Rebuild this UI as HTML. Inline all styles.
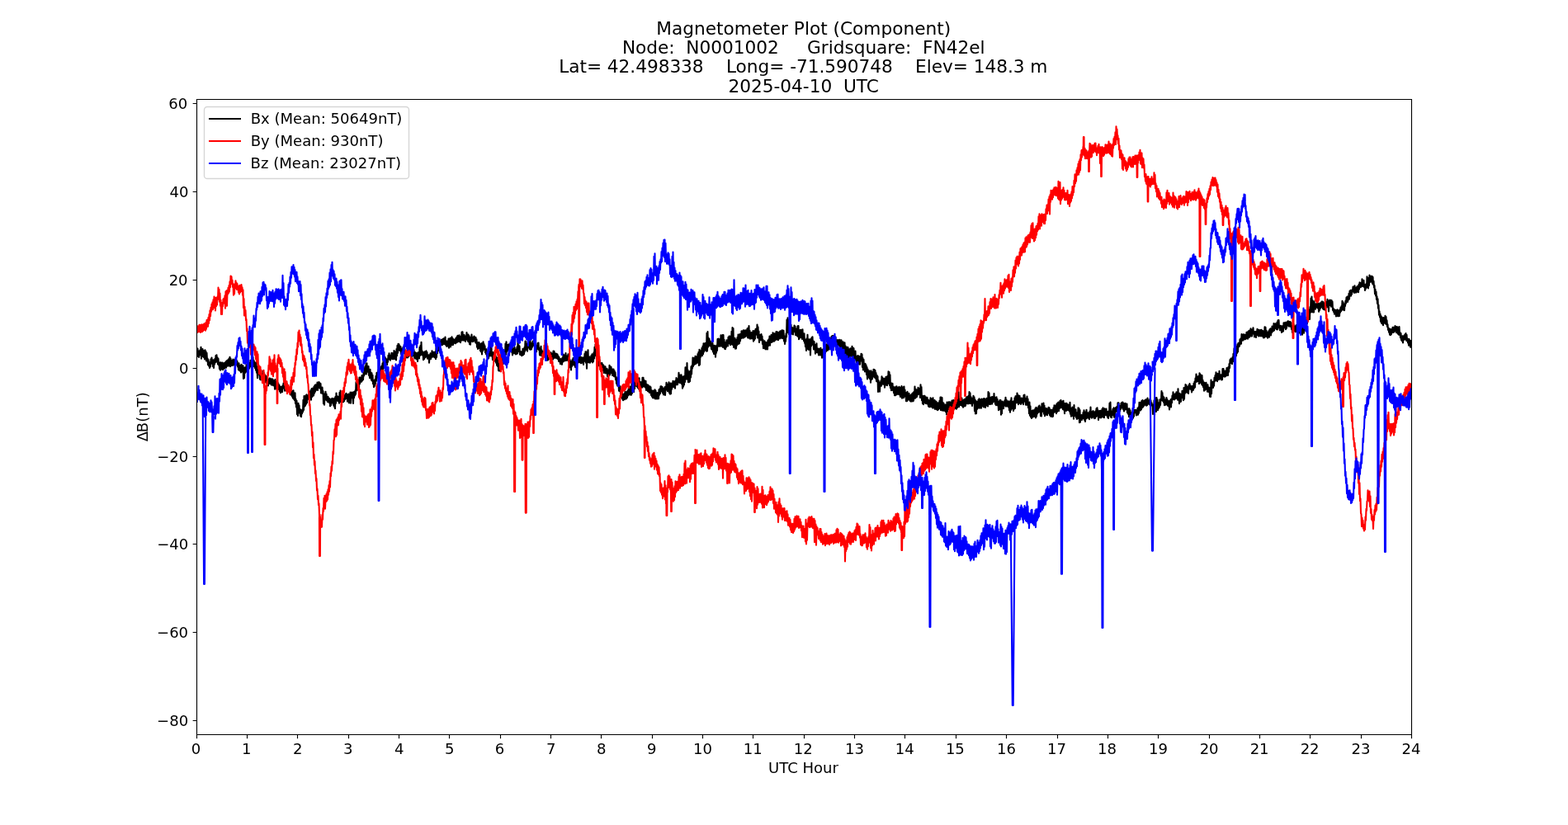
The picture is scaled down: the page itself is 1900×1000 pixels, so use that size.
<!DOCTYPE html>
<html lang="en"><head><meta charset="utf-8"><title>Magnetometer Plot (Component)</title>
<style>html,body{margin:0;padding:0;background:#fff}body{width:1900px;height:1000px;overflow:hidden}svg{display:block}text{font-family:"DejaVu Sans","Liberation Sans",sans-serif;fill:#000}.t{font-size:18.0556px}.h{font-size:21.6667px}.d{fill:none;stroke-width:2.0833;stroke-linejoin:round;stroke-linecap:butt}</style></head>
<body>
<svg width="1900" height="1000" viewBox="0 0 1900 1000">
<rect x="0" y="0" width="1900" height="1000" fill="#fff"/>
<clipPath id="c"><rect x="238" y="120" width="1473" height="771"/></clipPath>
<g clip-path="url(#c)">
<polyline class="d" stroke="#000" points="238.0,431.1 238.5,422.7 239.0,431.3 239.5,422.6 240.0,431.9 240.5,425.4 241.0,432.9 241.5,426.3 242.0,430.2 242.5,424.2 243.0,430.5 243.5,420.7 244.0,434.6 244.5,423.0 245.0,432.3 245.5,423.1 246.0,431.9 246.5,424.8 247.0,433.2 247.5,429.2 248.0,435.4 248.5,424.2 249.0,431.5 249.5,426.0 250.0,437.4 250.5,427.9 251.0,437.1 251.5,434.4 252.0,442.1 252.5,436.1 253.0,443.4 253.5,439.6 254.0,446.0 254.5,439.1 255.0,444.5 255.5,435.4 256.0,440.8 256.5,433.5 257.0,440.1 257.5,436.3 258.0,444.1 258.5,436.3 259.0,445.9 259.5,438.8 260.0,441.4 260.5,434.9 261.0,439.2 261.5,431.1 262.0,436.4 262.5,430.3 263.0,438.6 263.5,433.2 264.0,441.4 264.5,434.8 265.0,442.4 265.5,439.8 266.0,447.1 266.5,439.6 267.0,448.7 267.5,439.2 268.0,447.5 268.5,443.3 269.0,447.4 269.5,439.6 270.0,448.1 270.5,440.6 271.0,446.8 271.5,440.4 272.0,446.7 272.5,439.8 273.0,445.5 273.5,438.5 274.0,445.6 274.5,437.5 275.0,442.7 275.5,436.7 276.0,443.6 276.5,436.0 277.0,443.5 277.5,434.5 278.0,442.6 278.5,432.9 279.0,444.3 279.5,434.6 280.0,440.8 280.5,437.4 281.0,443.2 281.5,436.8 282.0,442.5 282.5,435.6 283.0,442.6 283.5,438.9 284.0,439.6 284.5,436.1 285.0,441.9 285.5,434.8 286.0,441.1 286.5,436.6 287.0,442.5 287.5,438.1 288.0,444.4 288.5,441.7 289.0,448.3 289.5,440.4 290.0,449.0 290.5,442.7 291.0,449.8 291.5,445.0 292.0,451.4 292.5,441.9 293.0,447.4 293.5,443.5 294.0,450.7 294.5,443.3 295.0,458.9 295.5,445.7 296.0,458.2 296.5,445.6 297.0,452.0 297.5,445.4 298.0,450.4 298.5,442.3 299.0,450.8 299.5,442.0 300.0,448.5 300.5,443.2 301.0,447.4 301.5,441.1 302.0,446.8 302.5,439.8 303.0,444.4 303.5,436.8 304.0,443.6 304.5,437.6 305.0,447.2 305.5,434.7 306.0,441.8 306.5,433.1 307.0,444.2 307.5,436.8 308.0,441.3 308.5,438.7 309.0,446.3 309.5,442.2 310.0,448.7 310.5,439.8 311.0,451.8 311.5,444.2 312.0,458.2 312.5,448.1 313.0,453.6 313.5,444.9 314.0,453.2 314.5,452.0 315.0,459.7 315.5,453.9 316.0,460.5 316.5,454.7 317.0,459.9 317.5,453.2 318.0,458.5 318.5,449.8 319.0,459.3 319.5,451.2 320.0,467.0 320.5,453.7 321.0,463.3 321.5,455.1 322.0,460.3 322.5,456.1 323.0,463.9 323.5,457.9 324.0,466.9 324.5,459.9 325.0,467.5 325.5,460.3 326.0,463.7 326.5,458.5 327.0,465.0 327.5,458.8 328.0,465.5 328.5,460.1 329.0,466.6 329.5,459.3 330.0,463.9 330.5,459.9 331.0,467.3 331.5,461.2 332.0,467.4 332.5,461.2 333.0,471.6 333.5,460.1 334.0,469.4 334.5,462.4 335.0,471.5 335.5,462.7 336.0,470.0 336.5,463.6 337.0,470.9 337.5,465.3 338.0,472.1 338.5,467.1 339.0,474.4 339.5,469.2 340.0,476.3 340.5,468.7 341.0,474.5 341.5,468.9 342.0,475.1 342.5,467.4 343.0,470.6 343.5,464.5 344.0,469.5 344.5,463.5 345.0,473.6 345.5,467.8 346.0,472.2 346.5,467.0 347.0,472.0 347.5,464.9 348.0,470.7 348.5,466.9 349.0,475.0 349.5,471.2 350.0,474.4 350.5,470.2 351.0,476.1 351.5,471.6 352.0,478.4 352.5,473.0 353.0,478.7 353.5,473.6 354.0,480.6 354.5,474.7 355.0,482.6 355.5,473.2 356.0,483.7 356.5,477.5 357.0,485.3 357.5,476.4 358.0,489.0 358.5,483.8 359.0,493.5 359.5,485.9 360.0,502.2 360.5,491.8 361.0,503.9 361.5,488.9 362.0,499.5 362.5,491.4 363.0,500.6 363.5,495.7 364.0,504.2 364.5,497.0 365.0,505.3 365.5,497.9 366.0,501.2 366.5,496.3 367.0,499.3 367.5,484.8 368.0,497.0 368.5,480.0 369.0,492.6 369.5,481.7 370.0,491.8 370.5,479.4 371.0,489.8 371.5,478.4 372.0,488.2 372.5,479.2 373.0,482.7 373.5,479.4 374.0,483.8 374.5,474.5 375.0,481.6 375.5,477.0 376.0,481.8 376.5,473.0 377.0,484.7 377.5,471.2 378.0,481.2 378.5,470.7 379.0,479.9 379.5,470.6 380.0,479.4 380.5,468.6 381.0,476.8 381.5,467.0 382.0,474.6 382.5,466.3 383.0,472.9 383.5,467.1 384.0,470.9 384.5,463.6 385.0,472.9 385.5,463.8 386.0,469.9 386.5,463.1 387.0,470.2 387.5,464.3 388.0,470.8 388.5,465.0 389.0,476.4 389.5,470.7 390.0,476.4 390.5,469.5 391.0,477.2 391.5,474.0 392.0,489.1 392.5,477.3 393.0,490.7 393.5,478.2 394.0,484.7 394.5,474.9 395.0,484.5 395.5,477.6 396.0,485.4 396.5,481.0 397.0,487.2 397.5,480.9 398.0,487.0 398.5,482.8 399.0,488.2 399.5,483.3 400.0,492.3 400.5,485.9 401.0,491.3 401.5,483.8 402.0,486.8 402.5,482.8 403.0,488.5 403.5,484.7 404.0,490.9 404.5,483.3 405.0,493.0 405.5,482.6 406.0,495.1 406.5,480.7 407.0,488.8 407.5,476.5 408.0,485.9 408.5,480.0 409.0,484.8 409.5,480.7 410.0,486.4 410.5,481.7 411.0,488.8 411.5,475.9 412.0,486.2 412.5,473.5 413.0,487.2 413.5,480.6 414.0,487.1 414.5,482.4 415.0,487.0 415.5,481.3 416.0,487.3 416.5,482.2 417.0,486.2 417.5,479.2 418.0,484.2 418.5,477.7 419.0,482.5 419.5,476.8 420.0,483.1 420.5,478.3 421.0,486.6 421.5,478.3 422.0,485.6 422.5,477.6 423.0,488.4 423.5,479.1 424.0,485.0 424.5,475.5 425.0,488.8 425.5,477.6 426.0,481.5 426.5,475.6 427.0,482.1 427.5,477.6 428.0,488.9 428.5,475.4 429.0,482.3 429.5,474.7 430.0,479.4 430.5,473.2 431.0,477.7 431.5,463.0 432.0,473.4 432.5,464.9 433.0,472.6 433.5,463.7 434.0,470.7 434.5,460.6 435.0,469.9 435.5,457.5 436.0,465.2 436.5,457.5 437.0,462.9 437.5,458.0 438.0,462.8 438.5,455.0 439.0,461.4 439.5,455.7 440.0,460.3 440.5,452.1 441.0,455.4 441.5,446.0 442.0,453.7 442.5,443.9 443.0,452.7 443.5,440.8 444.0,453.5 444.5,440.2 445.0,450.6 445.5,444.9 446.0,450.6 446.5,444.0 447.0,454.9 447.5,450.7 448.0,458.3 448.5,447.8 449.0,457.5 449.5,451.5 450.0,460.7 450.5,452.4 451.0,461.6 451.5,454.9 452.0,465.2 452.5,461.0 453.0,469.2 453.5,463.6 454.0,467.8 454.5,459.8 455.0,465.2 455.5,455.9 456.0,461.7 456.5,451.9 457.0,457.8 457.5,451.6 458.0,453.9 458.5,448.4 459.0,457.7 459.5,449.7 460.0,454.2 460.5,447.1 461.0,450.2 461.5,444.9 462.0,450.2 462.5,443.4 463.0,452.6 463.5,440.3 464.0,451.1 464.5,437.0 465.0,440.8 465.5,435.8 466.0,440.4 466.5,432.8 467.0,438.5 467.5,434.6 468.0,441.4 468.5,436.7 469.0,442.2 469.5,435.3 470.0,438.6 470.5,430.7 471.0,435.8 471.5,428.2 472.0,435.3 472.5,431.2 473.0,436.6 473.5,430.5 474.0,434.9 474.5,427.8 475.0,432.3 475.5,428.4 476.0,435.3 476.5,428.6 477.0,433.0 477.5,425.0 478.0,435.1 478.5,426.3 479.0,434.8 479.5,428.8 480.0,436.5 480.5,423.1 481.0,431.3 481.5,418.9 482.0,427.6 482.5,416.9 483.0,424.6 483.5,417.4 484.0,424.4 484.5,419.4 485.0,425.2 485.5,420.2 486.0,429.0 486.5,423.5 487.0,430.7 487.5,422.5 488.0,431.2 488.5,420.9 489.0,428.5 489.5,420.5 490.0,427.7 490.5,423.1 491.0,429.1 491.5,425.7 492.0,433.5 492.5,427.0 493.0,433.2 493.5,426.2 494.0,433.4 494.5,426.5 495.0,432.1 495.5,424.0 496.0,430.5 496.5,426.7 497.0,429.2 497.5,424.1 498.0,429.6 498.5,423.1 499.0,433.2 499.5,425.2 500.0,431.1 500.5,424.0 501.0,430.4 501.5,424.1 502.0,433.4 502.5,426.5 503.0,434.7 503.5,427.6 504.0,432.9 504.5,428.0 505.0,435.4 505.5,428.6 506.0,438.0 506.5,427.2 507.0,431.5 507.5,427.0 508.0,434.4 508.5,420.7 509.0,430.9 509.5,418.7 510.0,429.2 510.5,414.7 511.0,430.2 511.5,425.4 512.0,430.5 512.5,427.0 513.0,436.3 513.5,427.5 514.0,435.1 514.5,426.2 515.0,433.4 515.5,426.2 516.0,430.0 516.5,425.3 517.0,432.8 517.5,427.1 518.0,434.7 518.5,431.3 519.0,434.1 519.5,430.3 520.0,439.6 520.5,432.2 521.0,433.2 521.5,428.3 522.0,435.1 522.5,430.6 523.0,433.0 523.5,425.2 524.0,431.1 524.5,427.5 525.0,432.7 525.5,426.9 526.0,430.7 526.5,427.1 527.0,433.4 527.5,426.2 528.0,435.1 528.5,420.8 529.0,432.9 529.5,416.1 530.0,428.2 530.5,417.4 531.0,425.3 531.5,416.5 532.0,422.5 532.5,413.3 533.0,420.8 533.5,413.5 534.0,418.3 534.5,411.8 535.0,418.0 535.5,412.1 536.0,418.1 536.5,411.1 537.0,414.6 537.5,410.3 538.0,417.3 538.5,410.2 539.0,416.3 539.5,408.6 540.0,418.0 540.5,413.0 541.0,419.7 541.5,414.3 542.0,419.7 542.5,413.2 543.0,417.1 543.5,410.6 544.0,421.8 544.5,411.8 545.0,418.9 545.5,409.8 546.0,420.4 546.5,412.8 547.0,416.2 547.5,408.2 548.0,418.1 548.5,410.1 549.0,418.0 549.5,411.4 550.0,416.1 550.5,412.7 551.0,415.5 551.5,411.3 552.0,416.3 552.5,409.7 553.0,415.2 553.5,408.4 554.0,414.7 554.5,406.8 555.0,414.3 555.5,407.3 556.0,411.9 556.5,406.3 557.0,414.2 557.5,409.4 558.0,415.2 558.5,407.9 559.0,412.8 559.5,402.5 560.0,412.3 560.5,402.4 561.0,412.4 561.5,405.8 562.0,412.4 562.5,405.9 563.0,412.7 563.5,408.0 564.0,413.9 564.5,407.3 565.0,410.7 565.5,403.1 566.0,411.7 566.5,405.2 567.0,413.8 567.5,405.5 568.0,414.4 568.5,407.0 569.0,417.3 569.5,408.9 570.0,417.8 570.5,409.0 571.0,412.6 571.5,405.5 572.0,413.8 572.5,409.3 573.0,414.1 573.5,408.7 574.0,412.0 574.5,407.5 575.0,413.3 575.5,408.8 576.0,415.0 576.5,409.1 577.0,415.9 577.5,411.2 578.0,420.8 578.5,415.0 579.0,423.0 579.5,415.6 580.0,421.7 580.5,415.1 581.0,422.2 581.5,416.7 582.0,425.3 582.5,418.5 583.0,426.5 583.5,416.0 584.0,429.4 584.5,417.8 585.0,425.4 585.5,414.2 586.0,420.8 586.5,417.0 587.0,423.6 587.5,419.2 588.0,427.3 588.5,424.8 589.0,429.2 589.5,423.4 590.0,431.6 590.5,426.4 591.0,432.5 591.5,428.0 592.0,434.1 592.5,427.4 593.0,430.2 593.5,424.3 594.0,431.5 594.5,419.9 595.0,430.8 595.5,422.1 596.0,431.8 596.5,428.6 597.0,436.2 597.5,427.1 598.0,433.3 598.5,427.9 599.0,437.1 599.5,430.7 600.0,437.6 600.5,431.0 601.0,439.7 601.5,432.7 602.0,442.7 602.5,433.9 603.0,443.9 603.5,434.5 604.0,448.9 604.5,434.9 605.0,449.7 605.5,436.9 606.0,440.1 606.5,436.3 607.0,440.6 607.5,432.5 608.0,440.2 608.5,436.5 609.0,441.6 609.5,434.1 610.0,436.8 610.5,428.6 611.0,432.8 611.5,425.6 612.0,431.4 612.5,416.6 613.0,429.8 613.5,414.2 614.0,426.8 614.5,417.9 615.0,424.5 615.5,418.3 616.0,424.8 616.5,417.4 617.0,423.2 617.5,417.5 618.0,425.8 618.5,416.7 619.0,425.0 619.5,418.5 620.0,426.8 620.5,422.9 621.0,430.5 621.5,422.1 622.0,428.2 622.5,423.1 623.0,428.3 623.5,420.9 624.0,428.5 624.5,424.1 625.0,429.5 625.5,423.3 626.0,428.9 626.5,420.6 627.0,428.4 627.5,414.7 628.0,425.3 628.5,418.2 629.0,426.2 629.5,419.6 630.0,429.8 630.5,426.1 631.0,430.0 631.5,426.4 632.0,431.2 632.5,426.3 633.0,430.8 633.5,422.8 634.0,430.2 634.5,424.5 635.0,429.3 635.5,421.1 636.0,425.9 636.5,413.6 637.0,424.0 637.5,414.4 638.0,424.0 638.5,416.7 639.0,425.8 639.5,417.5 640.0,421.2 640.5,414.3 641.0,421.4 641.5,411.0 642.0,423.5 642.5,412.8 643.0,423.8 643.5,417.0 644.0,423.1 644.5,415.7 645.0,420.7 645.5,413.6 646.0,418.5 646.5,413.5 647.0,419.0 647.5,417.1 648.0,421.1 648.5,414.1 649.0,423.8 649.5,418.6 650.0,426.3 650.5,421.2 651.0,423.3 651.5,416.1 652.0,421.2 652.5,415.5 653.0,424.3 653.5,422.0 654.0,430.5 654.5,421.9 655.0,430.6 655.5,419.7 656.0,430.8 656.5,424.3 657.0,431.7 657.5,426.0 658.0,430.3 658.5,426.9 659.0,431.1 659.5,426.1 660.0,430.5 660.5,425.9 661.0,435.0 661.5,428.3 662.0,435.1 662.5,430.6 663.0,436.6 663.5,431.6 664.0,436.4 664.5,429.1 665.0,433.5 665.5,428.9 666.0,435.2 666.5,429.7 667.0,432.7 667.5,427.2 668.0,433.4 668.5,428.7 669.0,433.3 669.5,428.2 670.0,435.8 670.5,425.5 671.0,430.1 671.5,425.9 672.0,434.0 672.5,428.1 673.0,432.3 673.5,428.7 674.0,434.0 674.5,428.9 675.0,434.5 675.5,429.5 676.0,435.2 676.5,431.6 677.0,437.8 677.5,433.0 678.0,438.5 678.5,435.6 679.0,441.2 679.5,435.0 680.0,440.0 680.5,435.2 681.0,441.8 681.5,433.5 682.0,438.6 682.5,429.6 683.0,438.0 683.5,430.3 684.0,436.3 684.5,430.6 685.0,437.3 685.5,428.1 686.0,436.9 686.5,432.5 687.0,436.6 687.5,431.2 688.0,435.7 688.5,429.3 689.0,438.4 689.5,431.8 690.0,437.5 690.5,435.8 691.0,445.5 691.5,439.7 692.0,448.5 692.5,437.9 693.0,443.9 693.5,436.0 694.0,442.5 694.5,434.1 695.0,441.5 695.5,437.5 696.0,442.6 696.5,438.1 697.0,445.0 697.5,437.4 698.0,445.3 698.5,436.7 699.0,448.8 699.5,434.9 700.0,439.9 700.5,432.3 701.0,437.2 701.5,432.4 702.0,439.2 702.5,431.7 703.0,439.5 703.5,432.7 704.0,440.3 704.5,433.4 705.0,439.8 705.5,433.5 706.0,439.3 706.5,433.5 707.0,442.0 707.5,433.3 708.0,437.9 708.5,428.7 709.0,434.2 709.5,426.3 710.0,439.8 710.5,426.5 711.0,446.8 711.5,427.3 712.0,438.2 712.5,424.2 713.0,439.1 713.5,432.5 714.0,439.4 714.5,432.6 715.0,439.7 715.5,433.9 716.0,438.3 716.5,430.7 717.0,434.2 717.5,429.2 718.0,439.5 718.5,431.2 719.0,438.2 719.5,427.4 720.0,434.4 720.5,420.9 721.0,429.1 721.5,417.5 722.0,431.1 722.5,427.4 723.0,436.5 723.5,429.9 724.0,441.7 724.5,436.8 725.0,442.6 725.5,436.6 726.0,443.3 726.5,436.2 727.0,443.6 727.5,440.0 728.0,444.2 728.5,440.3 729.0,447.0 729.5,440.1 730.0,449.1 730.5,441.9 731.0,447.9 731.5,443.0 732.0,451.9 732.5,446.9 733.0,451.8 733.5,444.4 734.0,452.5 734.5,446.7 735.0,452.3 735.5,446.7 736.0,455.9 736.5,448.4 737.0,457.5 737.5,450.4 738.0,455.2 738.5,442.9 739.0,454.5 739.5,444.2 740.0,452.3 740.5,444.9 741.0,451.3 741.5,447.3 742.0,454.9 742.5,447.9 743.0,455.2 743.5,447.5 744.0,456.3 744.5,449.3 745.0,456.4 745.5,451.2 746.0,460.2 746.5,456.8 747.0,464.9 747.5,458.3 748.0,467.5 748.5,458.8 749.0,466.1 749.5,464.1 750.0,473.6 750.5,467.2 751.0,474.3 751.5,468.5 752.0,477.8 752.5,473.4 753.0,479.4 753.5,476.6 754.0,483.4 754.5,478.1 755.0,485.3 755.5,478.2 756.0,484.2 756.5,477.1 757.0,484.1 757.5,474.9 758.0,481.0 758.5,476.4 759.0,483.5 759.5,474.9 760.0,482.0 760.5,473.8 761.0,479.5 761.5,471.4 762.0,477.2 762.5,469.7 763.0,478.5 763.5,468.8 764.0,478.4 764.5,468.5 765.0,478.7 765.5,464.9 766.0,476.7 766.5,463.1 767.0,473.8 767.5,459.4 768.0,475.2 768.5,464.6 769.0,471.2 769.5,460.1 770.0,467.8 770.5,463.3 771.0,466.2 771.5,462.7 772.0,468.6 772.5,462.9 773.0,470.3 773.5,459.4 774.0,471.4 774.5,458.4 775.0,469.1 775.5,463.1 776.0,470.2 776.5,463.2 777.0,467.1 777.5,463.0 778.0,469.8 778.5,457.8 779.0,467.1 779.5,457.9 780.0,468.8 780.5,460.5 781.0,466.6 781.5,463.2 782.0,469.7 782.5,461.8 783.0,473.0 783.5,465.7 784.0,472.8 784.5,466.5 785.0,474.3 785.5,466.8 786.0,474.6 786.5,470.7 787.0,476.0 787.5,468.2 788.0,475.6 788.5,469.4 789.0,479.0 789.5,473.1 790.0,480.7 790.5,476.3 791.0,482.1 791.5,473.6 792.0,482.4 792.5,476.4 793.0,481.6 793.5,472.2 794.0,483.5 794.5,473.6 795.0,483.1 795.5,476.7 796.0,483.5 796.5,476.1 797.0,483.1 797.5,476.7 798.0,483.2 798.5,472.4 799.0,478.6 799.5,471.3 800.0,477.0 800.5,468.4 801.0,474.4 801.5,468.4 802.0,473.8 802.5,469.0 803.0,476.4 803.5,470.8 804.0,478.4 804.5,470.8 805.0,477.7 805.5,469.3 806.0,479.0 806.5,468.7 807.0,472.7 807.5,463.7 808.0,472.5 808.5,468.0 809.0,474.3 809.5,465.6 810.0,472.1 810.5,463.2 811.0,476.1 811.5,465.9 812.0,477.6 812.5,464.6 813.0,477.3 813.5,465.7 814.0,471.8 814.5,464.2 815.0,469.2 815.5,461.7 816.0,469.0 816.5,462.5 817.0,469.0 817.5,462.5 818.0,470.8 818.5,461.4 819.0,466.3 819.5,458.0 820.0,466.3 820.5,459.4 821.0,466.2 821.5,460.5 822.0,463.8 822.5,451.9 823.0,463.3 823.5,454.2 824.0,464.3 824.5,456.1 825.0,463.3 825.5,454.3 826.0,465.4 826.5,456.4 827.0,470.6 827.5,459.4 828.0,468.8 828.5,456.2 829.0,466.4 829.5,455.9 830.0,463.0 830.5,445.2 831.0,458.5 831.5,445.8 832.0,459.8 832.5,440.0 833.0,456.7 833.5,448.6 834.0,463.2 834.5,450.2 835.0,463.3 835.5,453.6 836.0,462.2 836.5,449.5 837.0,457.5 837.5,444.3 838.0,453.5 838.5,443.1 839.0,446.4 839.5,433.5 840.0,444.0 840.5,436.2 841.0,442.1 841.5,433.8 842.0,441.1 842.5,431.8 843.0,441.3 843.5,432.3 844.0,440.0 844.5,435.6 845.0,439.8 845.5,429.0 846.0,434.9 846.5,426.9 847.0,442.9 847.5,423.7 848.0,442.0 848.5,426.9 849.0,432.7 849.5,425.1 850.0,429.8 850.5,421.7 851.0,431.3 851.5,419.6 852.0,429.2 852.5,416.3 853.0,426.5 853.5,416.8 854.0,424.7 854.5,416.0 855.0,422.7 855.5,415.5 856.0,425.8 856.5,403.7 857.0,425.5 857.5,402.0 858.0,420.8 858.5,409.5 859.0,418.1 859.5,410.9 860.0,419.2 860.5,413.2 861.0,419.4 861.5,414.6 862.0,423.0 862.5,417.8 863.0,424.0 863.5,416.0 864.0,426.5 864.5,419.5 865.0,429.0 865.5,418.8 866.0,429.3 866.5,419.2 867.0,432.6 867.5,420.6 868.0,427.8 868.5,418.5 869.0,424.9 869.5,411.0 870.0,419.4 870.5,410.5 871.0,419.7 871.5,411.6 872.0,419.6 872.5,411.0 873.0,417.9 873.5,406.3 874.0,419.6 874.5,408.9 875.0,419.1 875.5,406.0 876.0,421.0 876.5,406.0 877.0,419.7 877.5,411.8 878.0,422.8 878.5,415.4 879.0,423.2 879.5,414.9 880.0,420.8 880.5,412.4 881.0,419.2 881.5,414.1 882.0,419.4 882.5,408.9 883.0,416.5 883.5,407.5 884.0,416.1 884.5,407.6 885.0,418.3 885.5,410.5 886.0,416.3 886.5,401.8 887.0,417.5 887.5,397.0 888.0,417.9 888.5,398.0 889.0,421.0 889.5,410.0 890.0,418.4 890.5,409.7 891.0,422.7 891.5,412.3 892.0,422.4 892.5,411.5 893.0,418.5 893.5,409.0 894.0,414.2 894.5,405.5 895.0,417.0 895.5,406.7 896.0,416.0 896.5,405.0 897.0,413.1 897.5,404.8 898.0,410.2 898.5,401.4 899.0,408.7 899.5,402.1 900.0,409.7 900.5,400.5 901.0,409.5 901.5,400.4 902.0,408.7 902.5,401.2 903.0,408.2 903.5,400.4 904.0,407.1 904.5,400.2 905.0,407.2 905.5,398.2 906.0,409.1 906.5,397.5 907.0,409.8 907.5,395.1 908.0,408.5 908.5,400.9 909.0,410.7 909.5,403.3 910.0,410.0 910.5,403.0 911.0,410.4 911.5,403.6 912.0,408.1 912.5,401.0 913.0,413.7 913.5,402.3 914.0,412.2 914.5,400.8 915.0,410.5 915.5,399.1 916.0,402.9 916.5,398.3 917.0,405.7 917.5,393.5 918.0,409.4 918.5,396.2 919.0,409.5 919.5,401.6 920.0,415.0 920.5,405.8 921.0,411.7 921.5,406.0 922.0,412.3 922.5,405.1 923.0,410.8 923.5,407.6 924.0,416.9 924.5,411.8 925.0,422.3 925.5,414.5 926.0,421.6 926.5,413.3 927.0,422.6 927.5,414.7 928.0,423.4 928.5,415.9 929.0,422.7 929.5,414.8 930.0,423.5 930.5,412.5 931.0,419.1 931.5,411.4 932.0,416.6 932.5,407.6 933.0,418.6 933.5,409.9 934.0,413.7 934.5,406.0 935.0,414.9 935.5,405.7 936.0,414.3 936.5,403.4 937.0,413.4 937.5,404.4 938.0,413.6 938.5,404.4 939.0,412.8 939.5,405.1 940.0,411.5 940.5,402.1 941.0,411.7 941.5,402.1 942.0,408.5 942.5,403.1 943.0,412.1 943.5,403.2 944.0,410.3 944.5,402.4 945.0,410.5 945.5,401.4 946.0,409.3 946.5,401.5 947.0,409.8 947.5,400.2 948.0,410.1 948.5,400.6 949.0,408.2 949.5,400.8 950.0,413.5 950.5,407.4 951.0,416.9 951.5,411.0 952.0,413.8 952.5,404.3 953.0,408.5 953.5,387.6 954.0,400.2 954.5,385.4 955.0,403.1 955.5,387.7 956.0,405.1 956.5,395.6 957.0,402.2 957.5,392.7 958.0,402.0 958.5,393.5 959.0,401.5 959.5,396.9 960.0,404.9 960.5,397.7 961.0,405.5 961.5,397.2 962.0,402.3 962.5,394.6 963.0,402.0 963.5,395.5 964.0,406.2 964.5,398.7 965.0,406.0 965.5,398.2 966.0,407.3 966.5,395.3 967.0,407.9 967.5,395.0 968.0,411.1 968.5,402.4 969.0,409.8 969.5,400.1 970.0,408.5 970.5,399.9 971.0,409.2 971.5,402.5 972.0,411.0 972.5,399.3 973.0,410.8 973.5,405.2 974.0,413.1 974.5,404.4 975.0,415.7 975.5,411.6 976.0,420.3 976.5,415.2 977.0,425.0 977.5,410.3 978.0,423.2 978.5,405.7 979.0,420.8 979.5,411.8 980.0,423.9 980.5,411.4 981.0,422.8 981.5,412.8 982.0,430.4 982.5,410.9 983.0,419.5 983.5,409.4 984.0,417.5 984.5,408.2 985.0,418.0 985.5,413.3 986.0,423.4 986.5,414.0 987.0,420.9 987.5,417.9 988.0,428.6 988.5,419.3 989.0,426.3 989.5,416.4 990.0,427.3 990.5,422.6 991.0,427.5 991.5,422.5 992.0,430.5 992.5,424.4 993.0,430.2 993.5,422.5 994.0,430.4 994.5,421.9 995.0,430.2 995.5,423.7 996.0,433.7 996.5,427.4 997.0,433.3 997.5,423.0 998.0,429.4 998.5,425.1 999.0,430.3 999.5,421.1 1000.0,428.0 1000.5,418.3 1001.0,426.0 1001.5,417.6 1002.0,424.6 1002.5,416.2 1003.0,424.8 1003.5,417.4 1004.0,422.8 1004.5,414.8 1005.0,423.5 1005.5,412.9 1006.0,421.7 1006.5,410.1 1007.0,418.4 1007.5,408.0 1008.0,413.1 1008.5,407.0 1009.0,413.4 1009.5,407.3 1010.0,415.4 1010.5,407.0 1011.0,417.1 1011.5,408.3 1012.0,416.8 1012.5,409.1 1013.0,416.7 1013.5,411.9 1014.0,419.3 1014.5,413.6 1015.0,418.5 1015.5,412.0 1016.0,419.0 1016.5,413.3 1017.0,419.0 1017.5,411.8 1018.0,420.4 1018.5,415.4 1019.0,423.4 1019.5,412.2 1020.0,424.4 1020.5,414.2 1021.0,425.9 1021.5,414.3 1022.0,425.4 1022.5,418.6 1023.0,423.5 1023.5,415.2 1024.0,428.6 1024.5,419.4 1025.0,429.8 1025.5,421.5 1026.0,431.1 1026.5,420.8 1027.0,432.2 1027.5,421.0 1028.0,436.8 1028.5,423.0 1029.0,438.3 1029.5,424.4 1030.0,432.6 1030.5,422.2 1031.0,431.6 1031.5,422.2 1032.0,431.5 1032.5,419.7 1033.0,432.3 1033.5,421.6 1034.0,434.2 1034.5,422.2 1035.0,439.1 1035.5,425.9 1036.0,432.8 1036.5,425.5 1037.0,436.2 1037.5,432.6 1038.0,439.3 1038.5,431.8 1039.0,439.8 1039.5,431.0 1040.0,438.0 1040.5,431.8 1041.0,441.4 1041.5,432.1 1042.0,441.8 1042.5,434.3 1043.0,436.7 1043.5,428.8 1044.0,437.4 1044.5,429.5 1045.0,445.0 1045.5,434.1 1046.0,448.5 1046.5,435.8 1047.0,447.7 1047.5,441.2 1048.0,450.4 1048.5,440.8 1049.0,448.0 1049.5,442.6 1050.0,454.0 1050.5,445.1 1051.0,459.4 1051.5,447.6 1052.0,456.7 1052.5,449.3 1053.0,457.7 1053.5,449.5 1054.0,459.1 1054.5,451.9 1055.0,463.6 1055.5,449.2 1056.0,460.3 1056.5,450.7 1057.0,459.2 1057.5,451.2 1058.0,456.8 1058.5,447.9 1059.0,456.4 1059.5,448.1 1060.0,457.8 1060.5,449.0 1061.0,458.8 1061.5,452.1 1062.0,462.0 1062.5,454.9 1063.0,462.8 1063.5,456.2 1064.0,475.0 1064.5,461.0 1065.0,469.1 1065.5,463.3 1066.0,474.7 1066.5,464.0 1067.0,468.0 1067.5,461.4 1068.0,467.7 1068.5,456.4 1069.0,463.2 1069.5,458.0 1070.0,465.8 1070.5,459.1 1071.0,465.3 1071.5,458.7 1072.0,469.6 1072.5,460.1 1073.0,465.8 1073.5,456.8 1074.0,466.6 1074.5,457.9 1075.0,467.2 1075.5,455.8 1076.0,465.0 1076.5,450.3 1077.0,464.6 1077.5,451.0 1078.0,467.3 1078.5,454.3 1079.0,470.2 1079.5,463.8 1080.0,473.1 1080.5,465.8 1081.0,473.0 1081.5,464.8 1082.0,472.2 1082.5,469.1 1083.0,476.2 1083.5,469.3 1084.0,479.2 1084.5,471.1 1085.0,479.2 1085.5,468.7 1086.0,478.5 1086.5,468.3 1087.0,476.4 1087.5,469.7 1088.0,477.9 1088.5,469.7 1089.0,476.1 1089.5,468.9 1090.0,478.5 1090.5,471.4 1091.0,480.9 1091.5,469.5 1092.0,477.9 1092.5,468.0 1093.0,482.6 1093.5,472.6 1094.0,480.6 1094.5,469.4 1095.0,482.2 1095.5,468.6 1096.0,480.0 1096.5,472.5 1097.0,480.6 1097.5,475.8 1098.0,486.2 1098.5,476.8 1099.0,486.1 1099.5,474.8 1100.0,484.8 1100.5,477.5 1101.0,484.4 1101.5,476.9 1102.0,484.6 1102.5,479.2 1103.0,486.2 1103.5,479.0 1104.0,486.6 1104.5,478.1 1105.0,485.0 1105.5,476.7 1106.0,486.4 1106.5,476.1 1107.0,485.7 1107.5,474.7 1108.0,482.7 1108.5,468.5 1109.0,482.6 1109.5,471.6 1110.0,481.8 1110.5,474.7 1111.0,481.0 1111.5,472.2 1112.0,478.4 1112.5,469.9 1113.0,477.3 1113.5,470.7 1114.0,478.0 1114.5,473.3 1115.0,482.0 1115.5,466.3 1116.0,481.5 1116.5,469.1 1117.0,485.3 1117.5,479.6 1118.0,489.1 1118.5,481.7 1119.0,490.1 1119.5,479.9 1120.0,488.3 1120.5,479.9 1121.0,488.2 1121.5,481.4 1122.0,489.3 1122.5,481.9 1123.0,488.4 1123.5,481.9 1124.0,489.8 1124.5,484.4 1125.0,492.4 1125.5,485.3 1126.0,493.2 1126.5,486.8 1127.0,493.3 1127.5,482.3 1128.0,492.4 1128.5,483.3 1129.0,493.2 1129.5,485.7 1130.0,494.4 1130.5,482.2 1131.0,494.4 1131.5,485.1 1132.0,494.3 1132.5,485.0 1133.0,496.0 1133.5,486.4 1134.0,493.7 1134.5,486.8 1135.0,496.2 1135.5,488.2 1136.0,497.2 1136.5,488.4 1137.0,496.4 1137.5,488.2 1138.0,495.3 1138.5,485.7 1139.0,494.7 1139.5,481.6 1140.0,497.2 1140.5,481.5 1141.0,496.8 1141.5,482.1 1142.0,497.8 1142.5,488.0 1143.0,497.1 1143.5,488.8 1144.0,497.9 1144.5,491.8 1145.0,496.4 1145.5,490.5 1146.0,499.2 1146.5,490.5 1147.0,502.5 1147.5,487.5 1148.0,498.9 1148.5,489.2 1149.0,493.8 1149.5,487.3 1150.0,496.2 1150.5,487.3 1151.0,492.8 1151.5,487.6 1152.0,493.7 1152.5,488.1 1153.0,491.7 1153.5,485.5 1154.0,494.1 1154.5,485.6 1155.0,497.7 1155.5,485.1 1156.0,494.5 1156.5,485.9 1157.0,495.2 1157.5,486.3 1158.0,494.8 1158.5,488.6 1159.0,495.7 1159.5,485.2 1160.0,494.1 1160.5,472.5 1161.0,492.5 1161.5,475.3 1162.0,493.3 1162.5,485.5 1163.0,491.3 1163.5,483.7 1164.0,491.0 1164.5,481.8 1165.0,491.1 1165.5,482.9 1166.0,492.2 1166.5,485.4 1167.0,493.7 1167.5,485.1 1168.0,492.0 1168.5,484.1 1169.0,492.4 1169.5,484.3 1170.0,491.8 1170.5,482.4 1171.0,489.1 1171.5,481.0 1172.0,489.0 1172.5,481.0 1173.0,489.4 1173.5,479.7 1174.0,487.7 1174.5,475.1 1175.0,489.0 1175.5,476.2 1176.0,489.2 1176.5,481.1 1177.0,488.4 1177.5,483.1 1178.0,492.0 1178.5,482.6 1179.0,488.4 1179.5,479.9 1180.0,488.8 1180.5,481.4 1181.0,498.2 1181.5,484.2 1182.0,501.5 1182.5,485.9 1183.0,501.1 1183.5,488.3 1184.0,495.9 1184.5,486.9 1185.0,494.7 1185.5,484.5 1186.0,493.3 1186.5,483.3 1187.0,494.6 1187.5,485.1 1188.0,489.7 1188.5,484.4 1189.0,494.6 1189.5,483.5 1190.0,492.4 1190.5,484.5 1191.0,491.2 1191.5,483.5 1192.0,493.5 1192.5,483.1 1193.0,491.7 1193.5,483.8 1194.0,494.0 1194.5,485.8 1195.0,491.8 1195.5,482.8 1196.0,491.5 1196.5,483.3 1197.0,492.4 1197.5,475.1 1198.0,488.2 1198.5,476.4 1199.0,490.0 1199.5,484.4 1200.0,489.9 1200.5,481.8 1201.0,489.3 1201.5,481.4 1202.0,489.8 1202.5,481.0 1203.0,487.7 1203.5,481.8 1204.0,486.8 1204.5,477.0 1205.0,486.9 1205.5,481.5 1206.0,489.8 1206.5,482.5 1207.0,491.3 1207.5,481.2 1208.0,488.5 1208.5,483.8 1209.0,491.5 1209.5,487.3 1210.0,497.1 1210.5,486.5 1211.0,496.3 1211.5,485.1 1212.0,493.8 1212.5,485.0 1213.0,502.6 1213.5,486.9 1214.0,501.3 1214.5,486.5 1215.0,493.8 1215.5,487.2 1216.0,495.3 1216.5,487.8 1217.0,489.5 1217.5,485.2 1218.0,491.6 1218.5,481.8 1219.0,492.8 1219.5,484.5 1220.0,490.8 1220.5,487.1 1221.0,492.4 1221.5,486.4 1222.0,493.4 1222.5,486.9 1223.0,497.1 1223.5,490.9 1224.0,499.8 1224.5,485.2 1225.0,497.0 1225.5,482.4 1226.0,495.4 1226.5,487.9 1227.0,494.1 1227.5,486.9 1228.0,498.0 1228.5,486.1 1229.0,495.7 1229.5,482.4 1230.0,495.0 1230.5,480.3 1231.0,487.6 1231.5,480.1 1232.0,488.2 1232.5,476.6 1233.0,486.6 1233.5,478.5 1234.0,490.2 1234.5,479.8 1235.0,488.6 1235.5,479.9 1236.0,488.7 1236.5,484.1 1237.0,490.0 1237.5,482.5 1238.0,488.4 1238.5,482.8 1239.0,487.8 1239.5,483.6 1240.0,490.2 1240.5,479.1 1241.0,486.5 1241.5,478.5 1242.0,486.8 1242.5,482.9 1243.0,490.8 1243.5,484.6 1244.0,490.7 1244.5,480.6 1245.0,490.7 1245.5,483.5 1246.0,494.2 1246.5,490.0 1247.0,501.3 1247.5,487.5 1248.0,503.7 1248.5,492.4 1249.0,505.4 1249.5,498.1 1250.0,507.0 1250.5,498.1 1251.0,505.7 1251.5,497.2 1252.0,505.2 1252.5,498.0 1253.0,504.9 1253.5,496.7 1254.0,504.5 1254.5,495.0 1255.0,506.4 1255.5,493.7 1256.0,504.8 1256.5,495.0 1257.0,501.4 1257.5,494.6 1258.0,500.0 1258.5,492.5 1259.0,499.3 1259.5,491.6 1260.0,499.1 1260.5,494.5 1261.0,504.2 1261.5,493.2 1262.0,504.4 1262.5,489.3 1263.0,498.3 1263.5,489.9 1264.0,499.0 1264.5,488.6 1265.0,501.7 1265.5,491.5 1266.0,504.2 1266.5,495.4 1267.0,502.4 1267.5,494.7 1268.0,502.7 1268.5,495.6 1269.0,503.2 1269.5,495.6 1270.0,500.7 1270.5,493.7 1271.0,500.7 1271.5,494.3 1272.0,503.3 1272.5,496.3 1273.0,504.6 1273.5,497.3 1274.0,501.0 1274.5,496.8 1275.0,505.1 1275.5,496.7 1276.0,504.7 1276.5,494.2 1277.0,500.0 1277.5,491.3 1278.0,499.5 1278.5,492.9 1279.0,498.4 1279.5,491.4 1280.0,501.1 1280.5,489.5 1281.0,499.2 1281.5,488.6 1282.0,496.4 1282.5,487.6 1283.0,498.2 1283.5,489.2 1284.0,495.0 1284.5,485.7 1285.0,491.6 1285.5,485.1 1286.0,494.1 1286.5,489.1 1287.0,494.2 1287.5,486.5 1288.0,496.1 1288.5,485.8 1289.0,496.7 1289.5,488.7 1290.0,501.3 1290.5,489.4 1291.0,494.6 1291.5,489.1 1292.0,497.9 1292.5,488.8 1293.0,496.7 1293.5,490.2 1294.0,497.3 1294.5,490.6 1295.0,494.6 1295.5,491.0 1296.0,498.7 1296.5,487.8 1297.0,501.7 1297.5,494.6 1298.0,504.8 1298.5,496.1 1299.0,501.3 1299.5,493.6 1300.0,504.3 1300.5,495.3 1301.0,507.8 1301.5,491.1 1302.0,503.8 1302.5,496.6 1303.0,504.1 1303.5,496.2 1304.0,506.1 1304.5,502.9 1305.0,508.0 1305.5,500.0 1306.0,504.7 1306.5,494.3 1307.0,507.3 1307.5,495.0 1308.0,512.3 1308.5,497.0 1309.0,511.8 1309.5,503.7 1310.0,506.7 1310.5,503.1 1311.0,509.0 1311.5,503.0 1312.0,507.1 1312.5,500.1 1313.0,504.2 1313.5,497.3 1314.0,509.0 1314.5,499.3 1315.0,510.9 1315.5,501.9 1316.0,507.5 1316.5,496.8 1317.0,504.2 1317.5,500.2 1318.0,506.6 1318.5,500.4 1319.0,505.6 1319.5,501.0 1320.0,508.3 1320.5,498.6 1321.0,505.8 1321.5,493.6 1322.0,505.0 1322.5,499.1 1323.0,506.8 1323.5,499.1 1324.0,504.4 1324.5,498.0 1325.0,505.7 1325.5,499.3 1326.0,507.2 1326.5,500.5 1327.0,506.9 1327.5,498.2 1328.0,505.1 1328.5,495.4 1329.0,502.0 1329.5,494.4 1330.0,504.5 1330.5,497.3 1331.0,508.9 1331.5,499.4 1332.0,506.1 1332.5,498.0 1333.0,504.4 1333.5,497.9 1334.0,506.4 1334.5,498.4 1335.0,505.4 1335.5,495.9 1336.0,504.3 1336.5,494.3 1337.0,505.8 1337.5,496.9 1338.0,506.1 1338.5,495.2 1339.0,503.2 1339.5,497.6 1340.0,503.0 1340.5,495.6 1341.0,503.4 1341.5,498.7 1342.0,505.6 1342.5,500.8 1343.0,506.9 1343.5,498.3 1344.0,503.7 1344.5,488.9 1345.0,502.9 1345.5,487.5 1346.0,505.7 1346.5,499.8 1347.0,506.2 1347.5,498.4 1348.0,503.2 1348.5,495.8 1349.0,500.5 1349.5,494.4 1350.0,505.6 1350.5,496.5 1351.0,505.8 1351.5,494.6 1352.0,498.4 1352.5,493.8 1353.0,498.6 1353.5,492.7 1354.0,498.6 1354.5,488.4 1355.0,498.7 1355.5,488.2 1356.0,499.8 1356.5,492.7 1357.0,498.4 1357.5,491.7 1358.0,496.0 1358.5,488.7 1359.0,494.5 1359.5,487.8 1360.0,493.7 1360.5,487.5 1361.0,496.3 1361.5,489.1 1362.0,498.4 1362.5,489.9 1363.0,496.8 1363.5,488.8 1364.0,495.9 1364.5,489.8 1365.0,496.5 1365.5,489.6 1366.0,500.1 1366.5,495.3 1367.0,501.6 1367.5,495.7 1368.0,505.2 1368.5,495.2 1369.0,504.3 1369.5,497.4 1370.0,505.1 1370.5,501.2 1371.0,506.2 1371.5,500.4 1372.0,505.2 1372.5,498.9 1373.0,506.7 1373.5,498.5 1374.0,504.6 1374.5,496.8 1375.0,500.0 1375.5,496.7 1376.0,500.2 1376.5,497.1 1377.0,503.4 1377.5,497.0 1378.0,502.8 1378.5,494.8 1379.0,502.6 1379.5,493.5 1380.0,500.6 1380.5,487.7 1381.0,497.4 1381.5,488.4 1382.0,497.5 1382.5,487.6 1383.0,496.2 1383.5,485.9 1384.0,494.3 1384.5,485.1 1385.0,493.4 1385.5,488.0 1386.0,491.9 1386.5,485.8 1387.0,490.7 1387.5,485.1 1388.0,490.8 1388.5,484.3 1389.0,491.6 1389.5,484.5 1390.0,491.1 1390.5,482.6 1391.0,488.9 1391.5,486.2 1392.0,489.6 1392.5,485.0 1393.0,490.4 1393.5,483.3 1394.0,489.4 1394.5,485.3 1395.0,491.5 1395.5,488.3 1396.0,491.7 1396.5,490.8 1397.0,502.0 1397.5,490.6 1398.0,497.3 1398.5,485.3 1399.0,503.2 1399.5,484.5 1400.0,498.7 1400.5,482.2 1401.0,498.9 1401.5,482.1 1402.0,493.6 1402.5,484.4 1403.0,497.1 1403.5,489.4 1404.0,494.8 1404.5,488.1 1405.0,493.4 1405.5,484.4 1406.0,490.9 1406.5,484.4 1407.0,485.5 1407.5,474.0 1408.0,483.2 1408.5,476.0 1409.0,485.9 1409.5,480.6 1410.0,487.6 1410.5,481.9 1411.0,491.2 1411.5,484.3 1412.0,490.8 1412.5,485.0 1413.0,490.4 1413.5,482.1 1414.0,489.2 1414.5,484.4 1415.0,491.8 1415.5,486.2 1416.0,492.3 1416.5,486.1 1417.0,496.5 1417.5,486.1 1418.0,492.6 1418.5,484.3 1419.0,493.4 1419.5,483.5 1420.0,488.3 1420.5,479.5 1421.0,484.3 1421.5,475.4 1422.0,481.2 1422.5,478.0 1423.0,484.5 1423.5,477.8 1424.0,483.5 1424.5,477.0 1425.0,482.1 1425.5,475.2 1426.0,483.0 1426.5,478.5 1427.0,484.7 1427.5,471.4 1428.0,484.8 1428.5,477.4 1429.0,489.1 1429.5,476.9 1430.0,487.3 1430.5,479.9 1431.0,486.6 1431.5,477.9 1432.0,482.2 1432.5,473.9 1433.0,480.1 1433.5,475.4 1434.0,485.3 1434.5,470.1 1435.0,483.6 1435.5,470.7 1436.0,476.6 1436.5,466.1 1437.0,474.9 1437.5,467.0 1438.0,475.8 1438.5,469.0 1439.0,473.8 1439.5,468.9 1440.0,477.0 1440.5,466.8 1441.0,471.3 1441.5,465.0 1442.0,471.4 1442.5,467.4 1443.0,471.8 1443.5,469.0 1444.0,475.5 1444.5,468.1 1445.0,473.3 1445.5,468.0 1446.0,472.7 1446.5,464.8 1447.0,470.5 1447.5,462.6 1448.0,469.4 1448.5,458.6 1449.0,462.7 1449.5,453.5 1450.0,462.8 1450.5,456.4 1451.0,462.1 1451.5,457.5 1452.0,460.6 1452.5,455.5 1453.0,465.2 1453.5,452.3 1454.0,463.9 1454.5,453.5 1455.0,460.4 1455.5,456.9 1456.0,465.8 1456.5,455.1 1457.0,467.0 1457.5,460.7 1458.0,469.3 1458.5,463.1 1459.0,473.7 1459.5,464.0 1460.0,472.9 1460.5,464.6 1461.0,471.0 1461.5,463.7 1462.0,471.9 1462.5,468.1 1463.0,474.6 1463.5,466.3 1464.0,474.8 1464.5,469.4 1465.0,475.2 1465.5,470.8 1466.0,480.8 1466.5,469.8 1467.0,481.0 1467.5,460.6 1468.0,477.3 1468.5,464.1 1469.0,469.3 1469.5,462.7 1470.0,469.9 1470.5,462.6 1471.0,467.6 1471.5,457.7 1472.0,462.3 1472.5,455.0 1473.0,458.2 1473.5,451.3 1474.0,461.2 1474.5,453.3 1475.0,462.2 1475.5,452.7 1476.0,459.2 1476.5,453.1 1477.0,460.2 1477.5,449.7 1478.0,458.8 1478.5,454.6 1479.0,459.3 1479.5,454.2 1480.0,460.5 1480.5,455.8 1481.0,460.1 1481.5,447.1 1482.0,456.3 1482.5,447.1 1483.0,456.3 1483.5,451.8 1484.0,456.6 1484.5,449.6 1485.0,456.2 1485.5,450.7 1486.0,454.6 1486.5,446.1 1487.0,455.3 1487.5,447.7 1488.0,455.0 1488.5,444.9 1489.0,450.6 1489.5,441.0 1490.0,446.0 1490.5,436.0 1491.0,440.2 1491.5,434.5 1492.0,439.5 1492.5,435.4 1493.0,441.2 1493.5,433.0 1494.0,438.3 1494.5,428.7 1495.0,434.3 1495.5,422.4 1496.0,432.4 1496.5,423.4 1497.0,434.1 1497.5,423.7 1498.0,431.3 1498.5,419.8 1499.0,427.9 1499.5,417.2 1500.0,426.5 1500.5,415.9 1501.0,420.3 1501.5,416.5 1502.0,419.4 1502.5,411.3 1503.0,417.0 1503.5,410.2 1504.0,416.8 1504.5,405.1 1505.0,412.3 1505.5,406.2 1506.0,412.7 1506.5,405.4 1507.0,411.7 1507.5,405.6 1508.0,411.2 1508.5,405.8 1509.0,411.1 1509.5,405.8 1510.0,410.5 1510.5,402.8 1511.0,408.9 1511.5,402.9 1512.0,410.8 1512.5,401.7 1513.0,409.0 1513.5,400.9 1514.0,408.8 1514.5,400.5 1515.0,406.4 1515.5,398.3 1516.0,407.4 1516.5,399.9 1517.0,407.4 1517.5,399.2 1518.0,403.3 1518.5,397.2 1519.0,404.7 1519.5,402.5 1520.0,408.5 1520.5,402.1 1521.0,407.2 1521.5,402.0 1522.0,409.0 1522.5,401.5 1523.0,406.2 1523.5,398.9 1524.0,405.5 1524.5,401.1 1525.0,407.5 1525.5,399.9 1526.0,407.3 1526.5,401.3 1527.0,406.3 1527.5,400.1 1528.0,407.4 1528.5,399.9 1529.0,406.4 1529.5,400.7 1530.0,407.8 1530.5,401.3 1531.0,409.5 1531.5,402.4 1532.0,409.1 1532.5,396.3 1533.0,408.1 1533.5,396.7 1534.0,406.6 1534.5,400.8 1535.0,408.3 1535.5,404.9 1536.0,409.6 1536.5,402.6 1537.0,407.5 1537.5,401.1 1538.0,408.7 1538.5,399.3 1539.0,406.0 1539.5,398.2 1540.0,406.4 1540.5,398.6 1541.0,403.2 1541.5,395.5 1542.0,401.6 1542.5,396.5 1543.0,401.1 1543.5,392.1 1544.0,400.5 1544.5,394.2 1545.0,398.2 1545.5,392.2 1546.0,397.6 1546.5,392.8 1547.0,399.3 1547.5,390.5 1548.0,399.4 1548.5,388.4 1549.0,397.3 1549.5,388.0 1550.0,397.3 1550.5,396.0 1551.0,400.3 1551.5,394.7 1552.0,398.0 1552.5,395.2 1553.0,403.0 1553.5,397.9 1554.0,401.9 1554.5,394.8 1555.0,401.5 1555.5,391.4 1556.0,397.4 1556.5,391.5 1557.0,396.7 1557.5,390.8 1558.0,399.2 1558.5,393.9 1559.0,397.6 1559.5,390.3 1560.0,394.8 1560.5,389.3 1561.0,393.1 1561.5,389.6 1562.0,395.6 1562.5,390.1 1563.0,394.8 1563.5,390.1 1564.0,396.0 1564.5,391.3 1565.0,399.0 1565.5,396.1 1566.0,403.0 1566.5,395.0 1567.0,401.9 1567.5,393.1 1568.0,401.4 1568.5,395.3 1569.0,400.2 1569.5,395.7 1570.0,402.3 1570.5,394.3 1571.0,401.6 1571.5,394.1 1572.0,401.6 1572.5,395.0 1573.0,400.9 1573.5,397.5 1574.0,403.8 1574.5,394.3 1575.0,403.0 1575.5,394.1 1576.0,404.5 1576.5,392.0 1577.0,403.1 1577.5,393.6 1578.0,405.6 1578.5,394.9 1579.0,403.0 1579.5,393.5 1580.0,403.6 1580.5,391.9 1581.0,399.1 1581.5,388.1 1582.0,393.8 1582.5,387.8 1583.0,394.3 1583.5,384.6 1584.0,391.9 1584.5,383.7 1585.0,388.3 1585.5,380.5 1586.0,386.9 1586.5,375.3 1587.0,386.9 1587.5,372.1 1588.0,378.6 1588.5,361.6 1589.0,376.9 1589.5,359.6 1590.0,378.2 1590.5,364.1 1591.0,378.4 1591.5,365.3 1592.0,378.4 1592.5,365.4 1593.0,374.4 1593.5,368.2 1594.0,374.6 1594.5,369.1 1595.0,371.8 1595.5,367.6 1596.0,372.7 1596.5,368.4 1597.0,373.7 1597.5,368.0 1598.0,377.8 1598.5,371.0 1599.0,375.9 1599.5,367.4 1600.0,373.6 1600.5,367.3 1601.0,372.4 1601.5,365.6 1602.0,372.1 1602.5,365.6 1603.0,374.1 1603.5,366.2 1604.0,375.3 1604.5,368.7 1605.0,374.3 1605.5,367.3 1606.0,375.9 1606.5,367.5 1607.0,370.2 1607.5,365.5 1608.0,372.3 1608.5,362.7 1609.0,372.5 1609.5,364.4 1610.0,377.4 1610.5,364.7 1611.0,370.2 1611.5,363.5 1612.0,369.2 1612.5,364.4 1613.0,371.6 1613.5,364.0 1614.0,369.8 1614.5,365.5 1615.0,376.0 1615.5,373.5 1616.0,378.0 1616.5,374.8 1617.0,380.6 1617.5,376.2 1618.0,379.6 1618.5,375.9 1619.0,383.4 1619.5,377.2 1620.0,381.9 1620.5,375.4 1621.0,383.1 1621.5,376.3 1622.0,383.1 1622.5,377.0 1623.0,383.0 1623.5,375.4 1624.0,378.6 1624.5,372.5 1625.0,377.2 1625.5,371.1 1626.0,375.3 1626.5,364.9 1627.0,375.7 1627.5,366.2 1628.0,374.7 1628.5,368.5 1629.0,376.2 1629.5,368.4 1630.0,371.0 1630.5,364.5 1631.0,367.8 1631.5,360.6 1632.0,364.5 1632.5,359.5 1633.0,365.9 1633.5,360.2 1634.0,363.5 1634.5,355.8 1635.0,362.4 1635.5,352.8 1636.0,356.9 1636.5,351.8 1637.0,358.6 1637.5,353.0 1638.0,356.7 1638.5,351.2 1639.0,353.4 1639.5,347.5 1640.0,353.5 1640.5,350.0 1641.0,354.9 1641.5,346.3 1642.0,354.0 1642.5,350.4 1643.0,354.6 1643.5,348.5 1644.0,354.0 1644.5,347.3 1645.0,351.4 1645.5,346.9 1646.0,354.2 1646.5,344.9 1647.0,350.5 1647.5,342.4 1648.0,348.2 1648.5,343.1 1649.0,348.0 1649.5,343.4 1650.0,346.3 1650.5,338.2 1651.0,346.9 1651.5,340.6 1652.0,346.9 1652.5,339.8 1653.0,348.0 1653.5,344.8 1654.0,351.9 1654.5,345.7 1655.0,350.0 1655.5,344.0 1656.0,348.5 1656.5,335.3 1657.0,347.0 1657.5,339.9 1658.0,349.5 1658.5,336.9 1659.0,345.9 1659.5,333.5 1660.0,340.5 1660.5,335.2 1661.0,341.8 1661.5,334.8 1662.0,340.0 1662.5,334.8 1663.0,343.8 1663.5,335.8 1664.0,345.0 1664.5,340.8 1665.0,348.5 1665.5,346.1 1666.0,356.2 1666.5,350.7 1667.0,358.5 1667.5,353.6 1668.0,363.0 1668.5,359.3 1669.0,368.0 1669.5,362.2 1670.0,373.6 1670.5,369.9 1671.0,381.8 1671.5,377.2 1672.0,384.4 1672.5,380.6 1673.0,389.6 1673.5,383.0 1674.0,391.8 1674.5,384.6 1675.0,392.4 1675.5,388.7 1676.0,394.1 1676.5,385.0 1677.0,391.6 1677.5,385.5 1678.0,391.4 1678.5,382.9 1679.0,392.5 1679.5,384.1 1680.0,393.3 1680.5,388.3 1681.0,395.9 1681.5,393.3 1682.0,399.8 1682.5,397.4 1683.0,402.7 1683.5,398.6 1684.0,405.8 1684.5,399.0 1685.0,406.1 1685.5,399.3 1686.0,404.9 1686.5,399.0 1687.0,402.4 1687.5,396.9 1688.0,402.9 1688.5,396.9 1689.0,402.7 1689.5,397.0 1690.0,401.5 1690.5,395.0 1691.0,400.9 1691.5,398.4 1692.0,403.1 1692.5,396.1 1693.0,403.3 1693.5,396.6 1694.0,404.6 1694.5,398.9 1695.0,405.7 1695.5,396.1 1696.0,405.6 1696.5,403.1 1697.0,409.3 1697.5,404.1 1698.0,412.1 1698.5,407.5 1699.0,413.4 1699.5,407.3 1700.0,415.4 1700.5,409.0 1701.0,412.1 1701.5,406.5 1702.0,411.3 1702.5,405.4 1703.0,410.3 1703.5,404.0 1704.0,412.6 1704.5,405.9 1705.0,413.1 1705.5,410.3 1706.0,415.5 1706.5,411.2 1707.0,418.8 1707.5,411.0 1708.0,417.8 1708.5,412.8 1709.0,420.7 1709.5,413.0 1710.0,420.7 1710.5,414.1 1711.0,420.4"/>
<polyline class="d" stroke="#f00" points="238.0,402.4 238.5,395.4 239.0,403.0 239.5,395.5 240.0,402.3 240.5,395.3 241.0,402.1 241.5,393.9 242.0,400.8 242.5,393.8 243.0,402.9 243.5,395.9 244.0,401.3 244.5,393.2 245.0,402.1 245.5,395.0 246.0,401.3 246.5,393.3 247.0,399.3 247.5,392.2 248.0,400.0 248.5,392.7 249.0,400.8 249.5,390.9 250.0,398.7 250.5,388.1 251.0,396.0 251.5,387.4 252.0,395.6 252.5,384.8 253.0,391.9 253.5,381.0 254.0,388.3 254.5,376.3 255.0,383.2 255.5,372.7 256.0,377.7 256.5,368.6 257.0,375.1 257.5,366.4 258.0,375.3 258.5,363.3 259.0,369.4 259.5,359.6 260.0,373.2 260.5,360.8 261.0,376.4 261.5,360.8 262.0,371.2 262.5,363.8 263.0,369.5 263.5,359.5 264.0,363.0 264.5,348.5 265.0,358.9 265.5,350.7 266.0,365.8 266.5,355.5 267.0,370.8 267.5,363.9 268.0,380.9 268.5,366.7 269.0,381.0 269.5,368.1 270.0,371.3 270.5,362.5 271.0,367.5 271.5,361.5 272.0,367.6 272.5,358.4 273.0,373.7 273.5,353.2 274.0,370.8 274.5,352.3 275.0,370.7 275.5,352.1 276.0,356.6 276.5,348.9 277.0,355.3 277.5,346.0 278.0,353.5 278.5,341.3 279.0,348.3 279.5,334.5 280.0,344.3 280.5,335.2 281.0,343.6 281.5,339.5 282.0,348.0 282.5,344.0 283.0,357.8 283.5,347.1 284.0,356.1 284.5,344.4 285.0,349.0 285.5,340.2 286.0,349.4 286.5,342.5 287.0,350.9 287.5,344.0 288.0,350.4 288.5,348.3 289.0,354.5 289.5,346.9 290.0,356.5 290.5,345.9 291.0,354.5 291.5,347.5 292.0,352.9 292.5,345.0 293.0,351.1 293.5,348.3 294.0,357.6 294.5,351.4 295.0,373.0 295.5,362.0 296.0,382.4 296.5,371.8 297.0,382.8 297.5,376.0 298.0,388.1 298.5,387.0 299.0,401.3 299.5,398.2 300.0,415.7 300.5,413.3 301.0,420.9 301.5,411.1 302.0,417.6 302.5,409.8 303.0,421.2 303.5,412.7 304.0,429.8 304.5,414.3 305.0,432.4 305.5,413.8 306.0,433.5 306.5,419.2 307.0,424.1 307.5,417.6 308.0,424.1 308.5,419.7 309.0,430.4 309.5,421.4 310.0,435.2 310.5,431.2 311.0,438.4 311.5,426.3 312.0,441.6 312.5,429.4 313.0,446.8 313.5,442.5 314.0,453.1 314.5,444.0 315.0,452.8 315.5,444.9 316.0,454.4 316.5,448.5 317.0,459.9 317.5,454.8 318.0,464.1 318.5,457.7 319.0,461.9 319.5,448.7 320.0,470.0 320.5,453.4 320.4,472.0 320.6,539.0 321.4,539.0 321.6,472.0 321.0,479.0 321.5,470.7 322.0,477.3 322.5,467.5 323.0,473.5 323.5,462.8 324.0,466.0 324.5,451.4 325.0,455.0 325.5,442.9 326.0,447.7 326.5,432.3 327.0,440.9 327.5,435.3 328.0,449.7 328.5,440.3 329.0,453.7 329.5,448.4 330.0,450.4 330.5,436.6 331.0,456.3 331.5,435.4 332.0,451.6 332.5,430.2 333.0,448.6 333.5,440.4 334.0,450.4 334.5,443.3 335.0,450.6 335.5,445.1 335.5,446.8 335.7,489.0 336.3,489.0 336.5,446.8 336.0,447.2 336.5,435.1 337.0,438.2 337.5,430.4 338.0,440.0 338.5,433.4 339.0,441.0 339.5,434.6 340.0,444.3 340.5,436.3 341.0,444.3 341.5,439.8 342.0,452.2 342.5,445.1 343.0,456.6 343.5,452.8 344.0,462.9 344.5,447.3 345.0,466.8 345.5,450.8 346.0,471.5 346.5,464.3 347.0,474.0 347.5,462.4 348.0,477.1 348.5,467.3 349.0,475.0 349.5,466.8 350.0,475.1 350.5,469.0 351.0,477.6 351.5,470.2 352.0,475.1 352.5,460.7 353.0,473.2 353.5,457.2 354.0,466.4 354.5,458.1 355.0,461.2 355.5,451.8 356.0,462.7 356.5,446.3 357.0,456.0 357.5,439.8 358.0,442.3 358.5,431.4 359.0,436.2 359.5,423.2 360.0,429.3 360.5,415.9 361.0,420.4 361.5,402.6 362.0,405.2 362.5,400.5 363.0,413.4 363.5,405.5 364.0,418.1 364.5,408.9 365.0,419.5 365.5,417.2 366.0,427.5 366.5,425.4 367.0,436.1 367.5,430.3 368.0,438.2 368.5,431.5 369.0,443.4 369.5,434.6 370.0,443.4 370.5,439.6 371.0,447.1 371.5,444.7 372.0,457.8 372.5,454.9 373.0,463.8 373.5,465.5 374.0,476.2 374.5,476.5 375.0,491.4 375.5,489.9 376.0,503.3 376.5,503.7 377.0,515.7 377.5,514.7 378.0,528.3 378.5,523.6 379.0,542.2 379.5,536.4 380.0,555.1 380.5,550.7 381.0,563.6 381.5,559.1 382.0,573.9 382.5,570.3 383.0,582.9 383.5,580.0 384.0,594.5 384.5,592.4 385.0,605.1 385.5,600.8 386.0,612.1 386.5,610.3 387.0,625.8 386.9,628.0 387.1,674.0 387.9,674.0 388.1,628.0 387.5,623.9 388.0,637.6 388.5,630.1 389.0,638.9 389.5,630.4 390.0,638.7 390.5,624.0 391.0,629.7 391.5,616.1 392.0,619.7 392.5,603.8 393.0,616.1 393.5,600.7 394.0,616.6 394.5,604.0 395.0,608.2 395.5,598.8 396.0,607.2 396.5,596.3 397.0,605.4 397.5,593.2 398.0,599.6 398.5,588.1 399.0,595.6 399.5,583.1 400.0,590.5 400.5,573.5 401.0,577.1 401.5,565.6 402.0,570.7 402.5,559.1 403.0,562.3 403.5,547.4 404.0,550.1 404.5,533.7 405.0,533.0 405.5,520.4 406.0,524.7 406.5,513.9 407.0,529.1 407.5,509.0 408.0,527.4 408.5,507.5 409.0,515.7 409.5,505.5 410.0,515.2 410.5,502.3 411.0,509.5 411.5,503.0 412.0,506.1 412.5,498.8 413.0,507.6 413.5,488.7 414.0,492.9 414.5,474.1 415.0,486.0 415.5,476.5 416.0,481.8 416.5,469.7 417.0,475.8 417.5,463.2 418.0,468.0 418.5,458.8 419.0,463.9 419.5,451.2 420.0,455.1 420.5,444.3 421.0,453.5 421.5,439.6 422.0,447.9 422.5,435.8 423.0,445.9 423.5,441.1 424.0,450.0 424.5,444.3 425.0,452.4 425.5,442.0 426.0,452.0 426.5,440.4 427.0,447.6 427.5,436.1 428.0,448.6 428.5,442.4 429.0,451.6 429.5,444.3 430.0,454.4 430.5,444.2 431.0,460.0 431.5,450.1 432.0,462.9 432.5,457.0 433.0,464.8 433.5,459.8 434.0,471.9 434.5,467.1 435.0,481.5 435.5,471.3 436.0,483.5 436.5,472.8 437.0,490.5 437.5,479.5 438.0,498.7 438.5,483.5 439.0,505.2 439.5,488.9 440.0,505.7 440.5,494.4 441.0,514.7 441.5,503.0 442.0,517.2 442.5,504.5 443.0,511.3 443.5,504.9 444.0,509.2 444.5,505.4 445.0,514.7 445.5,503.1 446.0,510.8 446.5,501.7 447.0,518.0 447.5,501.6 448.0,516.6 448.5,496.2 449.0,515.0 449.5,497.3 450.0,504.7 450.5,493.4 451.0,498.4 451.5,485.3 452.0,495.9 452.5,487.0 453.0,495.2 453.5,484.7 454.0,496.8 454.5,483.0 454.4,483.3 454.6,533.0 455.4,533.0 455.6,483.3 455.0,490.2 455.5,477.8 456.0,480.9 456.5,467.4 457.0,480.4 457.5,465.4 458.0,474.7 458.5,467.9 459.0,473.6 459.5,463.0 460.0,469.5 460.5,458.5 461.0,461.0 461.5,450.4 462.0,458.6 462.5,448.7 463.0,458.4 463.5,449.0 464.0,457.9 464.5,449.4 465.0,461.8 465.5,452.4 466.0,462.4 466.5,457.1 467.0,462.9 467.5,454.3 468.0,463.7 468.5,455.7 469.0,465.6 469.5,457.1 470.0,461.9 470.5,455.4 471.0,463.9 471.5,453.9 472.0,460.5 472.5,451.5 473.0,458.3 473.5,450.1 474.0,455.3 474.5,448.4 475.0,452.8 475.5,443.4 476.0,451.3 476.5,446.6 477.0,454.6 477.5,449.0 478.0,467.7 478.5,456.6 479.0,473.5 479.5,457.7 480.0,467.0 480.5,460.9 481.0,468.6 481.5,463.6 482.0,471.7 482.5,463.0 483.0,469.2 483.5,462.0 484.0,467.3 484.5,458.8 485.0,466.4 485.5,453.3 486.0,460.2 486.5,451.0 487.0,459.6 487.5,442.1 488.0,456.1 488.5,434.6 489.0,450.3 489.5,440.4 490.0,442.6 490.5,430.7 491.0,436.9 491.5,425.0 492.0,431.4 492.5,425.1 493.0,430.4 493.5,421.7 494.0,431.8 494.5,420.7 495.0,427.4 495.5,420.0 496.0,430.6 496.5,421.8 497.0,428.4 497.5,425.6 498.0,437.0 498.5,433.4 499.0,442.6 499.5,436.2 500.0,443.4 500.5,435.0 501.0,443.0 501.5,437.9 502.0,444.8 502.5,439.9 503.0,446.8 503.5,439.9 504.0,454.1 504.5,442.6 505.0,456.5 505.5,453.1 506.0,462.1 506.5,457.3 507.0,466.6 507.5,460.1 508.0,470.6 508.5,466.3 509.0,477.0 509.5,470.1 510.0,481.3 510.5,474.8 511.0,486.6 511.5,480.4 512.0,490.6 512.5,483.4 513.0,493.0 513.5,487.5 514.0,493.7 514.5,481.7 515.0,488.3 515.5,483.0 516.0,497.2 516.5,495.7 517.0,507.0 517.5,500.3 518.0,505.8 518.5,495.8 519.0,506.7 519.5,496.8 520.0,505.6 520.5,493.8 521.0,504.3 521.5,492.8 522.0,504.0 522.5,492.4 523.0,502.7 523.5,488.5 524.0,499.1 524.5,488.1 525.0,499.7 525.5,492.6 526.0,501.4 526.5,490.6 527.0,498.0 527.5,486.8 528.0,488.6 528.5,479.9 529.0,486.9 529.5,478.8 530.0,485.7 530.5,474.1 531.0,477.9 531.5,469.9 532.0,479.7 532.5,476.7 533.0,486.6 533.5,473.2 534.0,483.1 534.5,475.7 535.0,486.0 535.5,478.6 536.0,482.3 536.5,470.1 537.0,471.9 537.5,455.5 538.0,452.7 538.5,442.6 539.0,449.8 539.5,436.6 540.0,439.5 540.5,433.9 541.0,443.4 541.5,433.5 542.0,446.0 542.5,433.0 543.0,441.1 543.5,435.5 544.0,443.9 544.5,436.1 545.0,444.4 545.5,436.5 546.0,446.9 546.5,440.8 547.0,452.5 547.5,439.3 548.0,458.0 548.5,439.7 549.0,456.0 549.5,439.4 550.0,458.8 550.5,442.9 551.0,469.9 551.5,446.5 552.0,472.4 552.5,452.6 553.0,458.5 553.5,446.5 554.0,455.4 554.5,446.6 555.0,457.8 555.5,446.5 556.0,452.3 556.5,441.6 557.0,450.2 557.5,441.4 558.0,448.5 558.5,437.0 559.0,444.3 559.5,438.7 560.0,448.6 560.5,442.7 561.0,451.4 561.5,442.9 562.0,451.2 562.5,445.2 563.0,453.5 563.5,436.5 564.0,453.6 564.5,435.7 565.0,456.9 565.5,447.0 566.0,459.2 566.5,444.9 567.0,451.3 567.5,440.6 568.0,449.2 568.5,439.2 569.0,454.0 569.5,435.8 570.0,449.1 570.5,433.8 571.0,450.8 571.5,437.1 572.0,450.6 572.5,444.5 573.0,453.6 573.5,449.9 574.0,462.5 574.5,459.9 575.0,470.6 575.5,463.3 576.0,476.4 576.5,467.3 577.0,472.4 577.5,465.4 578.0,473.7 578.5,467.8 579.0,476.9 579.5,464.7 580.0,476.4 580.5,459.1 581.0,479.1 581.5,458.9 582.0,478.3 582.5,459.5 583.0,476.6 583.5,467.4 584.0,471.3 584.5,462.6 585.0,473.1 585.5,455.9 586.0,475.0 586.5,456.6 587.0,475.0 587.5,469.9 588.0,478.3 588.5,468.5 589.0,480.0 589.5,469.7 590.0,485.4 590.5,475.2 591.0,483.6 591.5,475.6 592.0,486.5 592.5,476.5 593.0,487.4 593.5,476.7 594.0,483.7 594.5,474.5 595.0,478.4 595.5,468.9 596.0,472.1 596.5,460.8 597.0,462.7 597.5,444.8 598.0,441.8 598.5,431.0 599.0,435.9 599.5,425.1 600.0,433.6 600.5,420.7 601.0,427.5 601.5,416.7 602.0,426.3 602.5,421.0 603.0,430.1 603.5,422.1 604.0,435.3 604.5,426.0 605.0,439.2 605.5,431.8 606.0,447.4 606.5,430.1 607.0,450.5 607.5,434.1 608.0,444.5 608.5,438.3 609.0,447.8 609.5,444.1 610.0,452.5 610.5,451.1 611.0,466.5 611.5,462.0 612.0,470.8 612.5,464.5 613.0,473.9 613.5,470.2 614.0,477.3 614.5,472.4 615.0,480.7 615.5,467.6 616.0,483.2 616.5,475.3 617.0,484.4 617.5,475.1 618.0,485.2 618.5,479.5 619.0,492.0 619.5,482.7 620.0,493.5 620.5,486.6 621.0,495.1 621.5,484.0 622.0,501.7 622.5,489.7 623.0,505.7 623.5,498.3 622.9,506.2 623.1,596.0 624.1,596.0 624.4,506.2 624.0,507.6 624.5,500.1 625.0,512.4 625.5,504.0 626.0,515.4 626.5,506.4 627.0,515.3 627.5,509.1 628.0,521.7 628.5,512.9 629.0,516.0 629.5,509.6 630.0,530.9 630.5,512.0 631.0,529.5 631.5,507.9 632.0,530.5 632.5,514.1 632.4,519.5 632.6,557.6 633.4,557.6 633.6,519.5 633.0,524.8 633.5,515.5 634.0,522.9 634.5,516.3 635.0,528.0 635.5,516.4 636.0,527.4 636.5,513.9 637.0,522.4 636.3,521.2 636.8,621.6 637.7,621.6 638.1,521.2 637.5,514.0 638.0,523.8 638.5,514.4 639.0,528.5 639.5,511.5 640.0,530.9 640.5,514.2 641.0,529.6 641.5,510.8 642.0,516.9 642.5,504.3 643.0,508.5 643.5,496.2 644.0,503.2 644.5,494.3 645.0,499.0 645.5,490.3 646.0,497.7 646.0,489.5 646.2,525.0 646.8,525.0 647.0,489.5 646.5,486.8 647.0,488.9 647.5,474.3 648.0,484.8 648.5,469.0 649.0,488.1 649.5,462.6 650.0,471.7 650.5,457.7 651.0,465.1 651.5,448.8 652.0,455.4 652.5,445.4 653.0,451.6 653.5,440.7 654.0,447.1 654.5,439.8 655.0,445.5 655.5,434.9 656.0,441.2 656.5,435.8 657.0,441.9 657.5,429.3 658.0,435.4 658.5,427.3 659.0,433.0 659.5,418.7 660.0,426.9 660.5,412.4 661.0,426.5 661.5,410.8 662.0,426.0 662.5,416.5 663.0,426.7 663.5,419.6 664.0,429.4 664.5,424.3 665.0,432.1 665.5,425.4 666.0,434.8 666.5,428.4 667.0,439.9 667.5,430.9 668.0,440.2 668.5,433.8 669.0,443.7 669.5,438.3 670.0,452.2 670.5,443.8 671.0,455.9 671.5,448.7 671.5,452.0 671.7,478.0 672.3,478.0 672.5,452.0 672.0,457.5 672.5,449.9 673.0,460.6 673.5,451.8 674.0,462.2 674.5,448.3 675.0,458.7 675.5,452.3 676.0,461.2 676.5,454.4 677.0,462.7 677.5,455.3 678.0,466.3 678.5,457.2 679.0,466.0 679.5,457.3 680.0,469.8 680.5,466.2 681.0,473.0 681.5,463.0 682.0,473.2 682.5,457.0 683.0,474.8 683.5,471.7 684.0,479.7 684.5,472.6 685.0,480.2 685.5,467.6 686.0,476.2 686.5,463.9 687.0,470.1 687.5,459.3 688.0,465.0 688.5,448.2 689.0,451.5 689.5,433.2 690.0,435.2 690.5,415.7 691.0,419.9 691.5,402.4 692.0,411.1 692.5,392.7 693.0,405.5 693.5,382.1 694.0,392.5 694.5,378.8 695.0,390.3 695.5,371.9 696.0,385.6 696.5,374.0 697.0,380.5 697.5,368.6 698.0,376.0 698.5,365.3 699.0,374.5 699.5,362.8 700.0,365.5 700.5,353.2 701.0,358.1 701.5,344.8 701.2,348.1 701.4,423.0 702.0,423.0 702.2,348.1 702.0,353.5 702.5,338.3 703.0,344.8 703.5,338.6 704.0,347.3 704.5,341.4 705.0,349.6 705.5,340.2 706.0,350.2 706.5,345.6 707.0,354.9 707.5,355.6 708.0,368.2 708.5,360.0 709.0,370.3 709.5,364.4 710.0,373.2 710.5,365.8 711.0,378.3 711.5,370.2 712.0,381.5 712.5,367.5 713.0,380.9 713.5,367.6 714.0,382.3 714.5,376.9 715.0,383.6 715.5,379.9 716.0,385.8 716.5,381.3 717.0,392.1 717.5,383.3 718.0,398.6 718.5,389.8 719.0,399.3 719.5,394.4 720.0,405.4 720.5,399.1 721.0,414.1 721.5,410.6 722.0,421.8 722.5,413.6 723.0,420.1 723.5,409.8 723.0,420.3 723.2,506.0 724.0,506.0 724.2,420.3 724.0,423.3 724.5,411.2 725.0,423.6 725.5,418.5 726.0,436.6 726.5,432.4 727.0,447.9 727.5,442.4 728.0,450.2 728.5,443.2 729.0,456.5 729.5,446.6 730.0,472.4 730.5,455.5 731.0,462.9 731.5,456.4 732.0,467.0 731.9,464.0 732.1,490.0 732.7,490.0 732.9,464.0 732.5,460.6 733.0,471.0 733.5,465.3 734.0,469.8 734.5,458.2 735.0,467.9 735.5,459.6 736.0,469.7 736.5,460.1 737.0,478.0 737.5,454.7 738.0,480.6 738.5,462.1 739.0,475.9 739.5,462.1 740.0,473.3 740.5,461.5 741.0,474.0 741.5,462.3 742.0,476.8 742.5,461.7 743.0,477.1 743.5,472.0 744.0,485.5 744.5,479.4 745.0,489.9 745.5,485.4 746.0,502.4 746.5,493.2 747.0,501.3 747.5,495.3 748.0,504.2 748.5,496.9 749.0,506.9 749.5,495.9 750.0,501.0 750.5,482.7 751.0,495.5 751.5,479.7 752.0,481.9 752.5,473.1 753.0,479.9 753.5,468.4 754.0,476.2 754.5,466.9 755.0,473.4 755.5,465.8 756.0,473.6 756.5,466.1 757.0,473.2 757.5,468.8 758.0,471.6 758.5,461.8 759.0,469.8 759.5,459.8 760.0,466.9 760.5,458.1 761.0,468.8 761.5,451.4 762.0,470.2 762.5,454.6 763.0,464.0 763.5,449.6 764.0,457.8 764.5,453.0 765.0,463.9 765.5,456.5 766.0,463.7 766.5,452.7 767.0,459.0 767.5,450.9 768.0,456.5 768.5,448.7 769.0,461.6 769.5,450.9 770.0,462.6 770.5,452.8 771.0,466.7 771.5,453.5 772.0,460.4 772.5,453.8 773.0,462.8 773.5,460.2 774.0,470.3 774.5,464.2 775.0,473.9 775.5,468.0 776.0,482.3 776.5,470.2 777.0,488.3 777.5,477.5 778.0,486.7 778.5,478.9 779.0,491.3 779.5,490.3 780.0,505.7 780.5,505.3 781.0,522.2 780.7,521.0 780.9,555.0 781.5,555.0 781.7,521.0 781.5,516.0 782.0,528.1 782.5,522.7 783.0,534.1 783.5,529.4 784.0,541.2 784.5,535.8 785.0,547.0 785.5,540.7 786.0,553.1 786.5,549.1 787.0,557.8 787.5,554.2 788.0,561.8 788.5,557.6 789.0,565.7 789.5,556.0 790.0,564.9 790.5,551.2 791.0,561.9 791.5,549.8 792.0,562.6 792.5,548.8 793.0,568.6 793.5,552.9 794.0,562.4 794.5,555.7 795.0,565.8 795.5,558.6 796.0,569.7 796.5,562.5 797.0,574.2 797.5,564.4 798.0,575.3 798.5,566.4 799.0,577.1 799.5,574.0 800.0,595.0 800.5,585.4 801.0,596.9 801.5,587.1 802.0,599.8 802.5,591.5 803.0,604.2 803.5,592.8 804.0,601.8 804.5,591.1 805.0,600.8 805.5,583.1 806.0,605.5 806.5,588.3 807.0,610.4 807.5,599.2 807.3,597.5 807.5,625.0 808.3,625.0 808.5,597.5 808.0,608.2 808.5,591.6 809.0,596.5 809.5,577.2 810.0,591.0 810.5,576.4 811.0,587.7 811.5,577.8 812.0,593.3 812.5,590.0 813.0,599.5 813.0,595.6 813.2,620.0 813.8,620.0 814.0,595.6 813.5,581.1 814.0,600.3 814.5,584.5 815.0,601.7 815.5,591.8 816.0,607.7 816.5,593.0 817.0,606.2 817.5,589.2 818.0,602.2 818.5,583.3 819.0,596.9 819.5,585.1 820.0,595.5 820.5,583.8 821.0,593.3 821.5,584.3 822.0,594.2 822.5,577.7 823.0,591.4 823.5,575.4 824.0,591.8 824.5,580.9 825.0,589.0 825.5,578.3 826.0,589.2 826.5,577.8 827.0,588.6 827.5,577.9 828.0,588.3 828.5,574.9 829.0,585.9 829.5,561.2 830.0,586.5 830.5,558.5 831.0,582.9 831.5,573.7 832.0,585.8 832.5,569.3 833.0,579.2 833.5,567.4 834.0,579.2 834.5,569.7 835.0,575.8 835.5,567.8 836.0,584.1 836.5,564.3 837.0,580.7 837.5,562.6 838.0,574.2 838.5,561.7 839.0,571.3 839.5,561.2 840.0,573.9 840.5,564.1 841.0,568.9 841.5,551.9 842.0,567.1 841.9,555.2 842.1,610.0 842.9,610.0 843.1,555.2 842.5,545.0 843.0,559.9 843.5,546.7 844.0,553.0 844.5,545.6 845.0,561.0 845.5,551.6 846.0,561.0 846.5,551.1 847.0,562.7 847.5,552.1 848.0,560.3 848.5,550.0 849.0,562.7 849.5,549.4 850.0,566.0 850.5,554.8 851.0,561.4 851.5,552.8 852.0,565.1 852.5,553.1 853.0,562.3 853.5,550.4 854.0,557.0 854.5,545.9 855.0,558.0 855.5,550.3 856.0,560.8 856.5,550.9 857.0,563.8 857.5,555.0 858.0,567.1 858.5,553.0 859.0,568.2 859.5,557.1 860.0,567.7 860.5,553.7 861.0,559.9 861.5,551.3 862.0,564.8 862.5,550.5 863.0,563.7 863.5,549.2 864.0,559.1 864.5,543.2 865.0,554.3 865.5,544.3 866.0,552.4 866.5,544.4 867.0,557.6 867.5,551.3 868.0,560.4 868.5,552.4 869.0,558.0 869.5,547.8 870.0,562.7 870.5,551.3 871.0,568.9 871.5,553.7 872.0,567.5 872.5,553.7 873.0,567.0 873.5,557.1 874.0,567.8 874.5,555.8 875.0,566.9 875.5,556.3 876.0,579.8 876.5,555.1 877.0,565.6 877.5,555.2 878.0,568.1 878.5,551.4 879.0,566.9 879.5,554.9 880.0,570.5 880.5,563.5 881.0,573.7 881.0,567.8 881.2,586.0 881.8,586.0 882.0,567.8 881.5,561.8 882.0,575.1 882.5,562.2 883.0,574.9 883.5,563.4 884.0,585.5 884.5,562.3 885.0,573.5 885.5,558.3 886.0,572.6 886.5,550.6 887.0,566.5 887.5,551.4 888.0,569.7 888.5,552.4 889.0,569.1 889.5,558.7 890.0,571.8 890.5,561.7 891.0,572.5 891.5,563.0 892.0,572.8 892.5,567.1 893.0,578.7 893.5,568.2 894.0,581.2 894.5,574.6 895.0,586.1 895.5,573.2 896.0,584.7 896.5,573.2 897.0,582.0 897.5,571.9 898.0,585.7 898.5,570.9 899.0,583.1 899.5,570.2 900.0,587.3 900.5,576.8 901.0,587.1 901.5,583.3 902.0,598.4 902.5,588.0 903.0,595.3 903.5,584.9 904.0,595.0 904.5,579.4 905.0,593.3 905.5,579.6 906.0,592.5 906.5,580.2 907.0,591.9 907.5,578.3 908.0,595.9 908.5,579.9 909.0,601.3 909.5,581.7 910.0,605.3 910.5,585.0 911.0,607.7 911.5,585.2 912.0,594.4 912.5,586.2 913.0,596.9 913.5,586.5 914.0,602.4 914.0,596.9 914.2,621.0 914.8,621.0 915.0,596.9 914.5,591.6 915.0,605.3 915.5,594.8 916.0,604.2 916.5,600.4 917.0,616.2 917.5,590.0 918.0,611.6 918.5,592.3 919.0,609.2 919.5,600.5 920.0,609.0 920.5,599.0 921.0,607.3 921.5,598.6 922.0,608.9 922.5,599.4 923.0,610.7 923.5,589.8 924.0,615.4 924.5,593.8 925.0,613.9 925.5,601.0 926.0,615.1 926.5,600.9 927.0,611.1 927.5,600.3 928.0,610.2 928.5,604.3 929.0,612.2 929.5,601.8 930.0,609.8 930.5,600.1 931.0,607.9 931.5,599.8 932.0,605.9 932.5,595.5 933.0,605.2 933.5,590.4 934.0,606.2 934.5,593.2 935.0,603.4 935.5,592.6 936.0,605.5 936.5,594.6 937.0,610.0 937.5,599.1 938.0,616.8 938.5,604.6 939.0,616.3 939.5,609.9 940.0,621.3 940.5,608.9 941.0,622.4 941.5,613.2 942.0,623.6 942.5,612.1 943.0,632.9 943.5,608.2 944.0,625.6 944.5,604.2 945.0,618.0 945.5,610.7 946.0,622.8 946.5,612.8 947.0,625.6 947.5,619.1 948.0,629.7 948.5,616.4 949.0,626.1 949.5,616.6 950.0,626.7 950.5,616.0 951.0,630.9 951.5,621.7 952.0,630.9 952.5,620.0 953.0,627.3 953.5,619.3 954.0,632.2 954.5,623.4 955.0,636.7 955.5,628.4 956.0,636.7 956.5,627.9 957.0,638.5 957.5,629.8 958.0,642.1 958.5,634.3 959.0,644.9 959.5,636.9 960.0,645.0 960.5,634.7 961.0,645.9 961.5,636.3 962.0,644.2 962.5,628.7 963.0,642.0 963.5,626.3 964.0,639.6 964.5,632.8 965.0,638.1 965.5,625.4 966.0,638.5 966.5,628.2 967.0,636.5 967.5,625.9 968.0,639.9 968.5,630.4 969.0,638.0 969.5,629.3 970.0,639.4 970.5,632.7 971.0,643.2 971.5,637.1 972.0,651.2 972.5,638.2 973.0,648.4 973.5,637.5 974.0,651.7 974.5,641.4 975.0,651.9 975.5,640.7 976.0,656.5 976.5,629.7 977.0,659.4 977.5,636.9 978.0,654.8 978.5,634.2 979.0,638.2 979.5,628.2 980.0,634.3 980.5,626.5 981.0,639.1 981.5,628.6 982.0,637.0 982.5,627.0 983.0,638.7 983.5,626.0 984.0,637.2 984.5,628.2 985.0,640.2 985.5,631.3 986.0,638.0 986.5,628.8 987.0,657.3 987.5,631.0 988.0,656.9 988.5,635.5 989.0,660.7 989.5,638.0 990.0,647.2 990.5,639.7 991.0,648.3 991.5,644.7 992.0,653.0 992.5,643.9 993.0,653.3 993.5,641.1 994.0,655.3 994.5,641.0 995.0,657.2 995.5,645.1 996.0,654.1 996.5,647.7 997.0,659.8 997.5,649.5 998.0,658.3 998.5,650.2 999.0,658.9 999.5,647.0 1000.0,661.1 1000.5,648.2 1001.0,658.6 1001.5,646.5 1002.0,659.1 1002.5,648.9 1003.0,658.9 1003.5,650.9 1004.0,658.8 1004.5,649.2 1005.0,660.2 1005.5,651.6 1006.0,658.3 1006.5,648.5 1007.0,658.3 1007.5,648.4 1008.0,657.0 1008.5,649.2 1009.0,655.7 1009.5,648.1 1010.0,658.9 1010.5,648.1 1011.0,657.9 1011.5,646.9 1012.0,656.3 1012.5,646.5 1013.0,657.8 1013.5,642.3 1014.0,655.7 1014.5,640.7 1015.0,657.1 1015.5,641.9 1016.0,657.6 1016.5,647.5 1017.0,655.9 1017.5,648.1 1018.0,654.1 1018.5,645.8 1019.0,661.4 1019.5,646.8 1020.0,658.3 1020.5,647.9 1021.0,660.5 1021.5,649.3 1022.0,659.7 1022.5,649.8 1023.0,663.0 1023.5,653.2 1024.0,680.4 1024.5,655.4 1025.0,668.3 1025.5,656.7 1026.0,665.8 1026.5,651.1 1027.0,662.6 1027.5,648.2 1028.0,657.2 1028.5,645.9 1029.0,653.8 1029.5,644.5 1030.0,659.2 1030.5,645.6 1031.0,659.7 1031.5,647.7 1032.0,657.3 1032.5,647.1 1033.0,654.7 1033.5,646.2 1034.0,656.9 1034.5,646.8 1035.0,653.1 1035.5,643.2 1036.0,653.9 1036.5,642.0 1037.0,655.0 1037.5,638.7 1038.0,647.1 1038.5,634.5 1039.0,647.8 1039.5,635.6 1040.0,647.6 1040.5,639.7 1041.0,648.8 1041.5,638.1 1042.0,651.7 1042.5,647.4 1043.0,660.3 1043.5,650.4 1044.0,661.2 1044.5,651.5 1045.0,661.1 1045.5,648.2 1046.0,658.7 1046.5,649.3 1047.0,658.4 1047.5,647.7 1048.0,656.3 1048.5,646.3 1049.0,657.8 1049.5,650.9 1050.0,663.4 1050.5,652.2 1051.0,665.7 1051.5,652.2 1052.0,662.2 1052.5,650.2 1053.0,657.8 1053.5,636.1 1054.0,657.0 1054.5,639.0 1055.0,664.3 1055.5,648.1 1056.0,667.4 1056.5,649.9 1057.0,661.1 1057.5,643.0 1058.0,658.3 1058.5,648.1 1059.0,659.7 1059.5,646.6 1060.0,654.5 1060.5,640.4 1061.0,655.4 1061.5,639.5 1062.0,650.6 1062.5,639.7 1063.0,648.8 1063.5,637.0 1064.0,650.8 1064.5,640.8 1065.0,653.5 1065.5,639.8 1066.0,650.0 1066.5,642.0 1067.0,647.0 1067.5,632.5 1068.0,645.4 1068.5,630.8 1069.0,645.7 1069.5,631.0 1070.0,645.1 1070.5,630.9 1071.0,644.9 1071.5,633.8 1072.0,643.4 1072.5,637.1 1073.0,649.6 1073.5,642.4 1074.0,648.9 1074.5,635.5 1075.0,645.5 1075.5,636.3 1076.0,645.8 1076.5,630.8 1077.0,640.5 1077.5,633.3 1078.0,641.7 1078.5,633.7 1079.0,643.8 1079.5,631.0 1080.0,641.4 1080.5,632.4 1081.0,642.8 1081.5,632.8 1082.0,640.6 1082.5,628.3 1083.0,641.6 1083.5,626.6 1084.0,643.9 1084.5,627.2 1085.0,643.5 1085.5,623.0 1086.0,635.5 1086.5,623.7 1087.0,633.0 1087.5,622.2 1088.0,633.0 1088.5,623.1 1089.0,634.7 1089.5,627.9 1090.0,639.7 1090.5,631.1 1091.0,641.7 1091.5,633.6 1092.0,645.1 1092.5,637.5 1092.3,642.2 1092.5,667.0 1093.1,667.0 1093.3,642.2 1093.0,649.0 1093.5,638.5 1094.0,650.5 1094.5,638.3 1095.0,652.2 1095.5,632.6 1096.0,650.1 1096.5,614.2 1097.0,635.0 1097.5,611.5 1098.0,632.5 1098.5,607.0 1099.0,632.6 1099.5,619.4 1100.0,631.8 1100.5,613.9 1101.0,627.1 1101.5,606.7 1102.0,622.6 1102.5,606.9 1103.0,613.9 1103.5,603.4 1104.0,609.4 1104.5,599.2 1105.0,607.6 1105.5,596.8 1106.0,606.0 1106.5,594.0 1107.0,601.9 1107.5,589.8 1108.0,604.6 1108.5,590.7 1109.0,601.1 1109.5,591.3 1110.0,596.0 1110.5,583.9 1111.0,593.2 1111.5,583.6 1112.0,590.1 1112.5,576.3 1113.0,586.5 1113.5,575.8 1114.0,584.3 1114.5,569.6 1115.0,578.1 1115.5,566.1 1116.0,573.8 1116.5,564.7 1117.0,576.0 1117.5,561.7 1118.0,570.9 1118.5,560.7 1119.0,574.2 1119.5,556.8 1120.0,570.7 1120.5,556.8 1121.0,569.5 1121.5,551.2 1122.0,567.9 1122.5,550.5 1123.0,567.0 1123.5,550.6 1124.0,562.5 1124.5,554.3 1125.0,567.4 1125.5,554.7 1126.0,571.8 1126.5,555.2 1127.0,562.4 1127.5,547.6 1128.0,557.8 1128.5,545.8 1129.0,568.7 1129.5,545.8 1130.0,565.6 1130.5,546.3 1131.0,561.0 1131.5,547.0 1132.0,567.5 1132.5,547.0 1133.0,565.6 1133.5,547.3 1134.0,556.9 1134.5,544.2 1135.0,552.2 1135.5,538.3 1136.0,546.6 1136.5,535.7 1137.0,539.7 1137.5,527.2 1138.0,535.9 1138.5,523.6 1139.0,534.2 1139.5,523.6 1140.0,533.6 1140.5,520.2 1141.0,540.0 1141.5,526.0 1142.0,542.0 1142.5,522.3 1143.0,541.1 1143.5,528.7 1144.0,537.1 1144.5,521.9 1145.0,530.2 1145.5,516.6 1146.0,528.0 1146.5,510.9 1147.0,520.7 1147.5,504.8 1148.0,514.5 1148.5,501.8 1149.0,509.8 1149.5,499.2 1150.0,521.6 1150.5,495.1 1151.0,506.8 1151.5,493.0 1152.0,503.9 1152.5,494.1 1153.0,507.7 1153.5,494.6 1154.0,506.0 1154.5,493.4 1155.0,501.5 1155.5,490.1 1156.0,496.5 1156.5,487.3 1157.0,492.2 1157.5,482.0 1158.0,489.1 1158.5,476.5 1159.0,486.6 1159.5,469.5 1160.0,482.9 1160.5,467.8 1161.0,473.4 1161.5,460.9 1162.0,467.1 1162.5,456.0 1163.0,468.1 1163.5,451.5 1163.5,457.3 1163.7,485.0 1164.3,485.0 1164.5,457.3 1164.0,468.7 1164.5,450.4 1165.0,464.4 1165.5,449.2 1166.0,456.7 1166.5,447.1 1167.0,456.8 1167.5,444.0 1168.0,452.5 1168.5,438.5 1169.0,457.3 1169.0,442.2 1169.2,480.0 1169.8,480.0 1170.0,442.2 1169.5,433.7 1170.0,454.5 1170.5,435.4 1171.0,444.5 1171.5,433.4 1172.0,440.9 1172.5,415.6 1173.0,439.6 1173.5,421.6 1174.0,440.0 1174.5,430.4 1175.0,439.4 1175.5,429.2 1176.0,441.1 1176.5,428.2 1177.0,436.4 1177.5,425.7 1178.0,432.3 1178.5,421.0 1179.0,428.1 1179.5,418.1 1180.0,424.7 1180.5,416.4 1181.0,422.2 1181.5,413.5 1182.0,424.1 1182.5,412.7 1183.0,420.7 1183.5,408.5 1183.5,412.5 1183.7,443.0 1184.3,443.0 1184.5,412.5 1184.0,414.6 1184.5,404.7 1185.0,414.8 1185.5,398.5 1186.0,408.4 1186.5,395.7 1187.0,413.6 1187.5,393.0 1188.0,412.7 1188.5,388.4 1189.0,410.8 1189.5,389.4 1190.0,402.4 1190.5,392.0 1191.0,397.8 1191.5,389.3 1192.0,391.5 1192.5,381.4 1193.0,388.6 1193.5,362.0 1194.0,387.6 1194.5,377.3 1195.0,388.2 1195.5,377.6 1196.0,384.2 1196.5,376.7 1197.0,382.8 1197.5,371.3 1198.0,382.0 1198.5,373.9 1199.0,379.7 1199.5,366.0 1200.0,373.0 1200.5,362.1 1201.0,374.0 1201.5,364.0 1202.0,372.2 1202.5,362.2 1203.0,372.0 1203.5,360.3 1204.0,371.5 1204.5,362.3 1205.0,373.4 1205.5,357.0 1206.0,373.5 1206.5,362.0 1207.0,373.5 1207.5,361.7 1208.0,370.9 1208.5,362.9 1209.0,372.9 1209.5,364.1 1210.0,368.7 1210.5,357.3 1211.0,361.3 1211.5,351.9 1212.0,356.7 1212.5,342.8 1213.0,353.6 1213.5,346.8 1214.0,360.8 1214.5,346.8 1215.0,355.2 1215.5,345.3 1216.0,355.8 1216.5,343.3 1217.0,352.2 1217.5,338.2 1218.0,349.7 1218.5,342.5 1219.0,347.4 1219.5,339.5 1220.0,347.6 1220.5,338.8 1221.0,347.4 1221.5,334.1 1222.0,348.9 1222.5,332.7 1223.0,354.0 1223.5,341.4 1224.0,348.8 1224.5,342.2 1225.0,352.0 1225.5,337.7 1226.0,347.2 1226.5,336.4 1227.0,341.6 1227.5,327.4 1228.0,335.5 1228.5,323.2 1229.0,335.3 1229.5,323.9 1230.0,330.6 1230.5,315.5 1231.0,325.5 1231.5,312.4 1232.0,320.5 1232.5,310.8 1233.0,320.3 1233.5,310.8 1234.0,322.4 1234.5,311.7 1235.0,319.5 1235.5,305.6 1236.0,314.6 1236.5,301.2 1237.0,309.6 1237.5,300.3 1238.0,309.5 1238.5,299.1 1239.0,306.3 1239.5,296.5 1240.0,303.7 1240.5,294.5 1241.0,305.6 1241.5,293.6 1242.0,305.2 1242.5,288.5 1243.0,299.9 1243.5,287.4 1244.0,298.9 1244.5,287.2 1245.0,296.4 1245.5,285.5 1246.0,293.2 1246.5,284.9 1247.0,293.8 1247.5,284.0 1248.0,293.8 1248.5,281.5 1249.0,287.4 1249.5,273.3 1250.0,287.6 1250.5,271.0 1251.0,289.0 1251.5,270.2 1252.0,288.5 1252.5,279.4 1253.0,292.5 1253.5,277.9 1254.0,291.1 1254.5,277.4 1255.0,288.1 1255.5,274.4 1256.0,284.7 1256.5,273.5 1257.0,280.1 1257.5,270.9 1258.0,278.4 1258.5,262.3 1259.0,274.2 1259.5,259.4 1260.0,277.5 1260.5,266.3 1261.0,273.5 1261.5,260.6 1262.0,273.7 1262.5,259.3 1263.0,269.2 1263.5,261.8 1264.0,268.2 1264.5,260.3 1265.0,270.9 1265.5,259.9 1266.0,271.2 1266.5,260.3 1267.0,266.9 1267.5,253.4 1268.0,258.9 1268.5,248.5 1269.0,259.0 1269.5,248.3 1270.0,255.4 1270.5,241.6 1271.0,247.9 1271.5,238.3 1272.0,259.6 1272.5,236.0 1273.0,244.6 1273.5,230.8 1274.0,238.9 1274.5,233.9 1275.0,241.8 1275.5,230.8 1276.0,239.2 1276.5,229.2 1277.0,234.6 1277.5,227.2 1278.0,236.1 1278.5,230.1 1279.0,236.7 1279.5,226.9 1280.0,237.0 1280.5,229.0 1281.0,237.5 1281.5,227.7 1282.0,240.5 1282.5,219.7 1283.0,241.8 1283.5,221.8 1284.0,242.4 1284.5,221.1 1285.0,247.2 1285.5,233.8 1286.0,242.4 1286.5,230.9 1287.0,240.8 1287.5,229.7 1288.0,236.3 1288.5,227.3 1289.0,239.0 1289.5,230.8 1290.0,242.1 1290.5,234.7 1291.0,242.4 1291.5,234.0 1292.0,240.4 1292.5,234.2 1293.0,242.2 1293.5,230.8 1294.0,247.1 1294.5,235.7 1295.0,245.3 1295.5,236.2 1296.0,250.0 1296.5,238.7 1297.0,245.5 1297.5,235.2 1298.0,243.6 1298.5,232.2 1299.0,240.2 1299.5,226.0 1300.0,236.7 1300.5,227.2 1301.0,233.2 1301.5,218.7 1302.0,226.0 1302.5,211.4 1303.0,222.2 1303.5,212.6 1304.0,219.8 1304.5,206.2 1305.0,212.4 1305.5,203.3 1306.0,211.0 1306.5,198.6 1307.0,211.7 1307.5,195.5 1308.0,208.8 1308.5,193.0 1309.0,206.1 1309.5,187.3 1310.0,194.1 1310.5,182.4 1311.0,190.5 1311.5,181.6 1312.0,187.7 1312.5,177.9 1313.0,186.1 1312.7,183.1 1312.9,166.0 1313.5,166.0 1313.7,183.1 1313.5,178.0 1314.0,188.8 1314.5,179.8 1315.0,192.3 1315.5,181.6 1316.0,190.7 1316.5,182.6 1317.0,192.2 1317.5,184.6 1318.0,191.6 1318.5,184.2 1319.0,194.1 1319.0,184.9 1319.2,208.0 1319.8,208.0 1320.0,184.9 1319.5,182.5 1320.0,189.3 1320.5,173.9 1321.0,186.6 1321.5,174.8 1322.0,190.7 1322.5,178.1 1323.0,189.8 1323.5,176.4 1324.0,185.0 1324.5,176.1 1325.0,185.0 1325.5,175.8 1326.0,183.4 1326.5,173.9 1327.0,182.1 1327.5,173.5 1328.0,184.5 1328.5,179.4 1329.0,188.2 1329.5,180.5 1330.0,184.6 1330.5,176.7 1331.0,185.1 1331.5,174.9 1332.0,184.4 1332.5,178.4 1333.0,198.0 1333.5,178.4 1334.0,197.6 1334.0,184.5 1334.2,214.0 1334.8,214.0 1335.0,184.5 1334.5,179.3 1335.0,188.8 1335.5,178.1 1336.0,185.1 1336.5,179.4 1337.0,189.3 1337.5,180.4 1338.0,187.7 1338.5,178.7 1339.0,185.5 1339.5,175.3 1340.0,185.4 1340.5,177.3 1341.0,185.7 1341.5,175.6 1342.0,183.8 1342.5,176.2 1343.0,185.1 1343.5,171.6 1344.0,182.7 1344.5,174.7 1345.0,186.5 1345.5,174.4 1346.0,187.3 1346.5,176.3 1347.0,188.9 1347.5,175.7 1348.0,189.6 1348.5,174.4 1349.0,179.5 1349.5,168.1 1350.0,176.0 1350.5,165.8 1351.0,170.7 1351.5,160.2 1352.0,175.0 1352.5,153.4 1353.0,168.9 1353.5,156.6 1354.0,167.2 1354.5,164.3 1355.0,174.2 1355.5,167.9 1356.0,181.4 1356.5,176.5 1357.0,191.3 1357.5,181.7 1358.0,188.3 1358.5,182.5 1359.0,193.1 1359.5,186.3 1360.0,204.5 1360.5,187.5 1361.0,205.9 1361.5,191.5 1362.0,197.0 1362.5,191.3 1363.0,200.7 1363.5,194.8 1364.0,204.4 1364.5,196.1 1365.0,207.3 1365.5,197.9 1366.0,205.5 1366.5,197.3 1367.0,202.6 1367.5,192.3 1368.0,199.7 1368.5,190.6 1369.0,198.1 1369.5,190.6 1370.0,201.3 1370.5,192.8 1371.0,202.4 1371.5,193.7 1372.0,198.7 1372.5,190.4 1373.0,202.4 1373.5,190.1 1374.0,197.1 1374.5,190.4 1375.0,198.9 1375.5,188.6 1376.0,198.8 1376.5,188.8 1377.0,197.5 1377.5,188.6 1377.5,191.3 1377.7,215.0 1378.3,215.0 1378.5,191.3 1378.0,198.0 1378.5,189.3 1379.0,197.8 1379.5,187.9 1380.0,193.9 1380.5,184.6 1381.0,192.7 1381.5,181.8 1382.0,198.5 1382.5,185.3 1383.0,199.3 1383.5,185.6 1384.0,203.3 1384.5,191.4 1385.0,196.5 1385.5,192.6 1386.0,203.6 1386.5,199.6 1387.0,214.2 1387.5,211.7 1388.0,219.8 1388.5,211.0 1389.0,222.8 1389.5,216.0 1390.0,223.8 1390.5,214.4 1390.5,220.5 1390.7,244.5 1391.3,244.5 1391.5,220.5 1391.0,222.7 1391.5,214.0 1392.0,224.8 1392.5,218.4 1393.0,225.2 1393.5,216.7 1394.0,226.4 1394.5,217.7 1395.0,224.0 1395.5,214.4 1396.0,222.0 1396.5,216.9 1397.0,223.2 1397.5,216.9 1398.0,222.4 1398.5,209.4 1399.0,223.3 1399.5,211.9 1400.0,228.1 1400.5,222.3 1401.0,232.2 1401.5,225.0 1402.0,238.4 1402.5,229.1 1403.0,236.2 1403.5,228.7 1404.0,240.3 1404.5,231.4 1405.0,241.6 1405.5,233.9 1406.0,242.2 1406.5,238.6 1407.0,246.6 1407.5,238.7 1408.0,251.3 1408.5,243.0 1409.0,250.1 1409.5,243.6 1410.0,253.2 1410.5,241.6 1411.0,251.6 1411.5,244.3 1412.0,250.2 1412.5,242.3 1413.0,252.0 1413.5,233.2 1414.0,247.0 1414.5,230.8 1415.0,244.2 1415.5,235.7 1416.0,243.9 1416.5,234.1 1417.0,247.7 1417.5,237.6 1418.0,245.8 1418.5,238.8 1419.0,245.7 1419.5,239.5 1420.0,248.3 1420.5,239.9 1421.0,250.8 1421.5,233.6 1422.0,248.8 1422.5,237.4 1423.0,251.7 1423.5,238.3 1424.0,245.0 1424.5,239.2 1425.0,247.7 1425.5,241.4 1426.0,252.2 1426.5,245.6 1427.0,253.4 1427.5,243.9 1428.0,249.9 1428.5,238.0 1429.0,251.3 1429.5,240.1 1430.0,247.4 1430.5,237.1 1431.0,246.7 1431.5,241.1 1432.0,247.9 1432.5,240.2 1433.0,245.4 1433.5,238.6 1434.0,246.2 1434.5,237.7 1435.0,248.7 1435.5,239.1 1436.0,245.6 1436.5,238.2 1437.0,244.9 1437.5,232.1 1438.0,239.3 1438.5,233.5 1439.0,249.0 1439.5,233.1 1440.0,245.2 1440.5,234.3 1441.0,239.6 1441.5,231.8 1442.0,240.9 1442.5,234.9 1443.0,243.1 1443.5,235.5 1444.0,241.7 1444.5,233.1 1445.0,240.5 1445.5,234.4 1446.0,242.1 1446.5,232.3 1447.0,240.1 1447.5,230.3 1448.0,241.6 1448.5,232.9 1449.0,242.7 1449.5,233.5 1450.0,240.7 1450.5,233.6 1451.0,239.9 1451.5,231.6 1452.0,239.6 1452.5,228.6 1453.0,241.5 1453.5,231.9 1453.4,239.1 1453.6,311.0 1454.4,311.0 1454.6,239.1 1454.0,241.5 1454.5,234.0 1455.0,247.3 1455.5,236.2 1456.0,247.6 1456.5,238.5 1457.0,248.9 1457.5,241.2 1458.0,248.5 1458.5,241.6 1459.0,251.9 1459.5,242.6 1460.0,253.8 1460.5,246.6 1460.5,253.0 1460.7,272.0 1461.3,272.0 1461.5,253.0 1461.0,257.8 1461.5,246.8 1462.0,251.8 1462.5,240.3 1463.0,244.9 1463.5,235.0 1464.0,241.2 1464.5,232.1 1465.0,237.4 1465.5,228.8 1466.0,235.6 1466.5,225.2 1467.0,230.1 1467.5,220.6 1468.0,224.9 1468.5,217.5 1469.0,223.5 1469.5,215.1 1470.0,225.1 1470.5,216.3 1471.0,224.7 1471.5,215.8 1472.0,224.6 1472.5,215.5 1473.0,223.1 1473.5,218.0 1474.0,225.8 1474.5,221.3 1475.0,232.7 1475.5,223.5 1476.0,237.9 1476.5,229.7 1477.0,239.9 1477.5,234.3 1478.0,244.6 1478.5,241.2 1479.0,252.5 1479.5,244.8 1480.0,256.3 1480.5,248.8 1481.0,260.3 1481.5,251.7 1481.5,256.0 1481.7,273.0 1482.3,273.0 1482.5,256.0 1482.0,262.4 1482.5,254.9 1483.0,263.4 1483.5,254.7 1484.0,261.8 1484.5,252.0 1485.0,259.4 1485.5,249.5 1486.0,261.6 1486.5,252.5 1487.0,263.4 1487.5,252.0 1488.0,261.8 1488.5,258.2 1489.0,271.9 1489.5,267.0 1490.0,289.5 1490.5,277.0 1491.0,287.3 1491.5,283.1 1492.0,293.1 1491.9,289.0 1492.1,365.0 1492.9,365.0 1493.1,289.0 1492.5,286.0 1493.0,290.7 1493.5,282.4 1494.0,288.4 1494.5,280.5 1495.0,291.7 1495.5,280.1 1496.0,290.2 1496.5,279.5 1497.0,289.6 1497.5,282.4 1498.0,287.8 1498.5,278.0 1499.0,286.4 1499.5,281.5 1500.0,293.4 1500.5,275.9 1501.0,295.4 1501.5,278.0 1502.0,289.9 1502.5,288.4 1503.0,294.3 1503.5,285.2 1504.0,301.7 1504.5,287.2 1505.0,302.5 1505.5,286.7 1506.0,302.1 1506.5,295.4 1507.0,300.7 1507.5,294.8 1508.0,298.9 1508.5,292.7 1509.0,297.8 1509.5,289.7 1510.0,296.4 1510.5,289.4 1511.0,303.2 1511.5,291.8 1512.0,301.4 1512.5,293.1 1513.0,303.6 1513.5,298.9 1514.0,307.2 1514.5,304.7 1515.0,314.0 1514.9,311.2 1515.1,371.0 1515.9,371.0 1516.1,311.2 1515.5,304.2 1516.0,316.1 1516.5,307.9 1517.0,319.0 1517.5,311.7 1518.0,320.6 1518.5,314.9 1519.0,323.8 1519.5,317.3 1520.0,326.5 1520.5,320.2 1521.0,332.3 1521.5,324.8 1522.0,333.1 1522.5,327.9 1523.0,337.1 1523.5,325.7 1524.0,332.3 1524.5,323.3 1525.0,330.6 1525.5,322.9 1526.0,330.8 1526.5,323.3 1526.5,325.0 1526.7,353.0 1527.3,353.0 1527.5,325.0 1527.0,327.8 1527.5,318.1 1528.0,326.0 1528.5,317.4 1529.0,324.9 1529.5,316.5 1530.0,323.8 1530.5,317.6 1531.0,325.6 1531.5,320.3 1532.0,327.3 1532.5,318.5 1533.0,324.9 1533.5,320.6 1534.0,327.9 1534.5,319.8 1535.0,327.5 1535.5,314.0 1536.0,319.6 1536.5,305.3 1537.0,322.6 1537.5,309.1 1538.0,316.2 1538.5,305.6 1539.0,311.1 1539.5,307.7 1540.0,331.2 1540.5,313.0 1541.0,334.9 1541.5,317.4 1542.0,323.3 1542.5,312.9 1543.0,322.9 1543.5,318.4 1544.0,326.6 1544.5,318.2 1545.0,329.4 1545.5,321.2 1546.0,332.2 1546.5,322.9 1547.0,330.7 1547.5,325.5 1548.0,333.9 1548.5,324.5 1549.0,336.2 1549.5,325.5 1550.0,338.4 1550.5,326.1 1551.0,338.3 1551.5,326.1 1552.0,336.4 1552.5,326.1 1553.0,336.9 1553.5,326.1 1554.0,339.5 1554.5,327.8 1555.0,336.4 1555.5,328.6 1556.0,338.3 1556.5,334.6 1557.0,345.7 1557.5,338.0 1558.0,349.4 1558.5,339.8 1559.0,347.4 1559.5,338.1 1560.0,350.0 1560.5,342.5 1561.0,357.4 1561.5,348.5 1562.0,359.3 1562.5,350.0 1563.0,360.8 1563.5,352.2 1564.0,363.1 1564.5,355.6 1565.0,368.3 1565.5,362.8 1566.0,368.0 1566.5,361.0 1566.4,366.5 1566.6,410.0 1567.4,410.0 1567.6,366.5 1567.0,376.3 1567.5,360.6 1568.0,372.2 1568.5,365.5 1569.0,372.4 1569.5,364.3 1570.0,375.3 1570.5,364.3 1571.0,371.9 1571.5,365.2 1572.0,372.1 1572.5,362.2 1573.0,373.4 1573.5,363.5 1574.0,372.1 1574.5,361.0 1575.0,365.1 1575.5,354.2 1576.0,359.1 1576.5,344.1 1577.0,347.6 1577.5,333.4 1578.0,341.9 1578.5,336.0 1579.0,337.5 1579.5,325.8 1580.0,335.1 1580.5,330.1 1581.0,340.0 1581.5,327.8 1582.0,338.6 1582.5,329.8 1583.0,338.2 1583.5,332.4 1584.0,338.5 1583.9,336.5 1584.1,390.0 1584.9,390.0 1585.1,336.5 1584.5,331.6 1585.0,338.2 1585.5,331.4 1586.0,336.7 1586.5,329.9 1587.0,337.9 1587.5,332.7 1588.0,339.1 1588.5,336.0 1589.0,342.9 1589.5,339.4 1590.0,348.8 1590.5,343.6 1591.0,352.6 1591.5,342.3 1592.0,352.8 1592.5,346.8 1593.0,360.0 1593.5,353.8 1594.0,364.1 1594.5,355.6 1595.0,365.4 1595.5,356.4 1596.0,366.7 1596.5,354.8 1597.0,365.9 1597.5,356.1 1598.0,363.7 1598.5,352.7 1599.0,359.3 1599.5,349.6 1600.0,358.1 1600.5,350.4 1601.0,357.7 1601.5,351.3 1602.0,356.0 1602.5,350.8 1603.0,357.8 1603.5,347.3 1604.0,357.2 1604.5,346.1 1605.0,358.3 1605.5,356.9 1606.0,373.3 1606.5,371.8 1607.0,386.1 1607.5,381.3 1608.0,407.2 1608.5,386.9 1609.0,412.6 1609.5,399.8 1610.0,414.2 1610.5,415.5 1611.0,429.0 1611.5,416.4 1612.0,437.8 1612.5,422.3 1613.0,441.6 1613.5,430.1 1614.0,445.8 1614.5,433.7 1615.0,448.0 1615.5,439.4 1616.0,451.3 1616.5,442.9 1617.0,454.4 1617.5,447.7 1618.0,458.2 1618.5,450.6 1619.0,462.5 1619.5,456.2 1620.0,464.6 1620.5,458.3 1621.0,469.9 1621.5,465.2 1622.0,473.9 1622.5,467.9 1623.0,474.7 1623.5,464.1 1624.0,469.2 1624.5,462.0 1625.0,471.8 1625.5,459.4 1626.0,470.3 1626.5,460.1 1627.0,471.1 1626.9,461.4 1627.1,493.0 1627.9,493.0 1628.1,461.4 1627.5,457.2 1628.0,462.9 1628.5,452.1 1629.0,461.3 1629.5,454.0 1630.0,457.5 1630.5,445.4 1631.0,451.8 1631.5,440.5 1632.0,444.2 1632.5,438.8 1633.0,448.6 1633.5,441.1 1634.0,451.2 1634.5,451.2 1635.0,466.3 1635.5,466.6 1636.0,482.9 1636.5,477.9 1637.0,495.4 1637.5,493.4 1638.0,510.5 1638.5,502.9 1639.0,519.2 1639.5,519.0 1640.0,532.7 1640.5,530.8 1641.0,541.1 1641.5,536.9 1642.0,545.7 1642.5,544.6 1643.0,560.0 1643.5,553.5 1644.0,564.4 1644.5,565.0 1645.0,572.7 1645.5,563.3 1646.0,585.5 1646.5,574.0 1647.0,599.0 1647.5,585.4 1648.0,607.3 1648.5,604.4 1649.0,622.3 1649.5,623.1 1650.0,638.2 1650.5,627.6 1651.0,635.3 1651.5,630.9 1652.0,640.6 1652.5,637.0 1653.0,643.5 1653.5,635.8 1654.0,641.9 1654.5,626.6 1655.0,630.8 1655.5,616.7 1656.0,618.7 1656.5,607.5 1657.0,606.8 1657.5,594.3 1658.0,603.5 1658.5,598.6 1659.0,607.8 1659.5,595.5 1660.0,613.9 1660.5,601.4 1661.0,622.0 1661.5,617.0 1662.0,629.8 1662.5,623.8 1663.0,631.3 1663.5,628.7 1664.0,640.9 1664.5,626.1 1665.0,630.6 1665.5,618.1 1666.0,623.5 1666.5,612.5 1667.0,620.2 1667.5,610.5 1668.0,618.2 1668.5,602.9 1669.0,610.7 1669.5,591.2 1670.0,598.1 1670.5,580.8 1671.0,589.9 1671.5,571.9 1672.0,576.8 1672.5,564.1 1673.0,571.5 1673.5,558.6 1674.0,565.8 1674.5,550.7 1675.0,559.7 1675.5,547.5 1676.0,555.9 1676.5,543.0 1677.0,549.1 1677.5,536.8 1678.0,543.6 1678.5,531.8 1679.0,535.6 1679.5,524.8 1680.0,533.2 1680.5,509.1 1681.0,523.0 1681.5,503.1 1682.0,514.2 1682.5,499.7 1683.0,519.4 1683.5,513.3 1684.0,522.7 1684.5,514.1 1685.0,528.0 1685.5,514.6 1686.0,525.8 1686.5,513.7 1687.0,522.2 1687.5,514.1 1688.0,523.7 1688.5,513.4 1689.0,527.5 1689.5,514.1 1690.0,524.2 1690.5,502.1 1691.0,518.0 1691.5,494.5 1692.0,512.7 1692.5,502.0 1693.0,508.3 1693.5,499.6 1694.0,503.0 1694.5,494.5 1695.0,502.8 1695.5,491.2 1696.0,496.5 1696.5,487.8 1697.0,494.3 1697.5,484.7 1698.0,489.2 1698.5,482.4 1699.0,491.3 1699.5,482.4 1700.0,490.7 1700.5,478.2 1701.0,485.3 1701.5,475.7 1702.0,482.4 1702.5,471.9 1703.0,479.8 1703.5,469.3 1704.0,477.5 1704.5,469.6 1705.0,475.8 1705.5,468.9 1706.0,486.0 1706.5,466.5 1707.0,485.1 1707.5,464.8 1708.0,484.9 1708.5,465.1 1709.0,472.9 1709.5,465.8 1710.0,472.1 1710.5,465.1 1711.0,472.1"/>
<polyline class="d" stroke="#00f" points="238.0,486.2 238.5,478.5 239.0,487.0 239.5,476.6 240.0,482.3 240.5,467.8 241.0,484.0 241.5,472.7 242.0,484.4 242.5,476.7 243.0,487.0 243.5,478.7 244.0,488.0 244.5,477.5 245.0,491.4 245.5,480.5 246.0,490.0 246.5,479.2 247.0,493.8 245.7,488.1 247.1,708.0 247.9,708.0 249.3,488.1 247.5,486.1 248.0,505.1 248.5,482.7 249.0,504.7 249.5,483.3 250.0,503.3 250.5,481.5 251.0,492.3 251.5,486.6 252.0,493.8 252.5,487.3 253.0,498.0 253.5,490.6 254.0,499.2 254.5,488.9 255.0,497.9 255.5,485.4 256.0,499.5 256.5,487.3 257.0,497.5 257.5,497.3 257.2,505.0 257.6,524.0 258.4,524.0 258.8,505.0 258.0,515.4 258.5,496.3 259.0,501.3 259.5,492.3 260.0,502.2 260.5,480.4 261.0,507.6 261.5,487.0 262.0,501.8 262.5,483.4 263.0,500.4 263.5,483.0 264.0,496.2 264.5,485.5 265.0,500.8 265.5,476.8 266.0,486.6 266.5,459.9 267.0,478.8 267.5,459.0 268.0,471.9 268.5,453.1 269.0,471.7 269.5,454.7 270.0,472.1 270.5,457.3 271.0,470.3 271.5,452.4 272.0,462.7 272.5,449.6 273.0,462.5 273.5,448.6 274.0,464.5 274.5,454.6 275.0,466.1 275.5,452.0 276.0,460.2 276.5,453.5 277.0,464.0 277.5,452.7 278.0,463.9 278.5,456.8 279.0,465.4 279.5,455.0 280.0,471.3 280.5,457.9 281.0,469.7 281.5,457.5 282.0,467.6 282.5,456.2 283.0,468.1 283.5,453.7 284.0,464.2 284.5,444.1 285.0,452.7 285.5,433.3 286.0,441.8 286.5,431.4 287.0,432.7 287.5,419.0 288.0,424.5 288.5,415.1 289.0,422.1 289.5,410.1 290.0,417.3 290.5,409.2 291.0,418.9 291.5,413.7 292.0,424.5 292.5,419.5 293.0,431.1 293.5,422.2 294.0,434.5 294.5,428.2 295.0,440.1 295.5,430.4 296.0,437.8 296.5,422.3 297.0,440.9 297.5,429.2 298.0,439.9 298.5,424.7 299.0,438.6 299.5,423.1 300.0,434.8 299.8,424.2 300.1,549.0 300.9,549.0 301.2,424.2 300.5,423.0 301.0,427.7 301.5,401.9 302.0,419.8 302.5,395.8 303.0,416.7 303.5,403.4 304.0,414.3 304.5,406.3 305.0,419.2 304.8,400.6 305.1,548.0 305.9,548.0 306.2,400.6 305.5,397.5 306.0,414.6 306.5,394.0 307.0,396.4 307.5,382.5 308.0,390.2 308.5,390.9 309.0,396.5 309.5,385.9 310.0,388.8 310.5,374.0 311.0,375.8 311.5,366.8 312.0,372.1 312.5,359.9 313.0,368.0 313.5,355.5 314.0,365.3 314.5,357.7 315.0,368.3 315.5,353.3 316.0,365.4 316.5,353.0 317.0,363.9 317.5,347.9 318.0,359.0 318.5,342.6 319.0,355.0 319.5,341.8 320.0,357.5 320.5,344.3 321.0,351.2 321.5,345.2 322.0,350.7 322.5,348.9 323.0,364.2 323.5,359.6 324.0,374.0 324.5,365.0 325.0,372.1 325.5,359.7 326.0,367.7 326.5,353.1 327.0,364.5 327.5,354.1 328.0,364.9 328.5,356.0 329.0,362.9 329.5,353.9 330.0,365.1 330.5,351.9 331.0,365.1 331.5,356.7 332.0,371.9 332.5,355.2 333.0,367.6 333.5,353.5 334.0,362.8 334.5,350.2 335.0,360.5 335.5,350.8 336.0,361.5 336.5,351.6 337.0,361.9 337.5,350.2 338.0,363.0 338.5,351.5 339.0,362.6 339.5,352.1 340.0,365.7 340.5,350.7 341.0,361.3 341.5,352.0 342.0,358.3 342.5,333.9 343.0,361.3 343.5,343.1 344.0,369.8 344.5,359.2 345.0,370.9 345.5,363.9 346.0,375.2 346.5,363.1 347.0,371.0 347.5,362.5 348.0,371.0 348.5,355.8 349.0,363.6 349.5,344.7 350.0,355.0 350.5,342.7 351.0,347.5 351.5,335.5 352.0,343.7 352.5,329.8 353.0,336.7 353.5,323.4 354.0,330.7 354.5,323.3 355.0,331.6 355.5,321.0 356.0,332.5 356.5,323.7 357.0,335.5 357.5,327.0 358.0,341.3 358.5,331.5 359.0,339.8 359.5,329.9 360.0,343.2 360.5,335.4 361.0,344.8 361.5,340.7 362.0,353.1 362.5,342.3 363.0,352.0 363.5,341.0 364.0,358.1 364.5,345.1 365.0,362.9 365.5,356.4 366.0,372.6 366.5,368.4 367.0,379.6 367.5,371.3 368.0,384.8 368.5,378.8 369.0,391.1 369.5,390.1 370.0,400.8 370.5,393.0 371.0,405.9 371.5,398.4 372.0,409.9 372.5,399.9 373.0,412.4 373.5,403.1 374.0,419.7 374.5,411.4 375.0,426.3 375.5,416.9 376.0,425.5 376.5,420.5 377.0,435.3 377.5,429.8 378.0,442.2 378.5,439.8 379.0,455.9 379.5,440.2 380.0,454.1 380.5,437.8 381.0,456.0 381.5,439.6 382.0,452.9 382.5,439.6 383.0,455.8 383.5,435.1 384.0,439.6 384.5,429.1 385.0,434.9 385.5,411.9 386.0,429.7 386.5,404.4 387.0,422.8 387.5,400.4 388.0,420.6 388.5,404.3 389.0,411.7 389.5,396.7 390.0,408.6 390.5,394.4 391.0,403.3 391.5,385.6 392.0,389.2 392.5,373.8 393.0,379.8 393.5,369.2 394.0,378.2 394.5,360.1 395.0,371.4 395.5,355.3 396.0,361.0 396.5,349.6 397.0,357.2 397.5,340.5 398.0,349.9 398.5,338.2 399.0,347.7 399.5,330.6 400.0,345.4 400.5,326.3 401.0,341.3 401.5,321.1 402.0,332.7 402.5,317.8 403.0,334.4 403.5,327.1 404.0,337.4 404.5,328.6 405.0,338.9 405.5,332.3 406.0,345.8 406.5,337.9 407.0,347.0 407.5,337.6 408.0,349.8 408.5,341.5 409.0,354.8 409.5,345.4 410.0,359.9 410.5,349.7 411.0,364.4 411.5,340.8 412.0,353.5 412.5,339.7 413.0,357.7 413.5,339.4 414.0,358.2 414.5,350.0 415.0,362.1 415.5,355.1 416.0,363.0 416.5,353.7 417.0,365.0 417.5,360.1 418.0,370.6 418.5,359.2 419.0,369.3 419.5,363.8 420.0,377.3 420.5,371.8 421.0,385.3 421.5,379.4 422.0,391.7 422.5,385.5 423.0,400.0 423.5,396.4 424.0,414.0 424.5,406.4 425.0,419.6 425.5,413.3 426.0,427.3 426.5,415.3 427.0,427.7 427.5,417.5 428.0,431.3 428.5,414.0 429.0,427.9 429.5,417.5 430.0,427.9 430.5,417.8 431.0,430.4 431.5,419.5 432.0,431.6 432.5,419.8 433.0,434.3 433.5,424.4 434.0,438.9 434.5,430.6 435.0,442.1 435.5,434.7 436.0,447.4 436.5,436.6 437.0,446.3 437.5,437.1 438.0,449.8 438.5,443.0 439.0,451.2 439.5,442.3 440.0,449.3 440.5,435.5 441.0,441.3 441.5,430.2 442.0,439.8 442.5,426.5 443.0,438.8 443.5,427.3 444.0,437.0 444.5,425.7 445.0,431.4 445.5,423.2 446.0,431.6 446.5,422.8 447.0,429.9 447.5,417.4 448.0,431.5 448.5,413.8 449.0,426.5 449.5,416.4 450.0,422.6 450.5,412.4 451.0,423.8 451.5,407.5 452.0,418.5 452.5,406.8 453.0,417.8 453.5,406.6 454.0,411.7 454.5,407.3 455.0,424.0 455.5,417.4 456.0,429.8 456.5,425.0 457.0,434.3 457.5,417.7 458.0,433.4 458.5,414.4 458.2,424.7 458.6,607.0 459.4,607.0 459.8,424.7 459.0,429.5 459.5,410.8 460.0,422.4 460.5,404.9 461.0,421.3 461.5,417.7 462.0,429.1 462.5,422.3 463.0,427.8 463.5,416.2 464.0,436.3 464.5,421.9 465.0,437.4 465.5,426.7 466.0,446.2 466.5,436.0 467.0,449.4 467.5,440.8 468.0,452.1 468.5,446.3 469.0,459.2 469.5,444.7 470.0,459.3 470.5,445.3 471.0,472.1 471.5,456.4 472.0,482.0 472.5,461.1 473.0,487.8 473.5,462.9 474.0,471.5 474.5,455.3 475.0,468.7 475.5,454.6 476.0,464.4 476.5,445.1 477.0,460.0 477.5,445.9 478.0,459.6 478.5,445.9 479.0,456.7 479.5,441.2 480.0,454.1 480.5,443.4 481.0,455.7 481.5,444.3 482.0,452.0 482.5,442.0 483.0,454.5 483.5,442.7 484.0,449.7 484.5,437.0 485.0,443.2 485.5,433.1 486.0,438.9 486.5,428.1 487.0,437.9 487.5,426.0 488.0,434.4 488.5,422.3 489.0,428.1 489.5,418.0 490.0,423.9 490.5,409.1 491.0,420.0 491.5,411.7 492.0,416.1 492.5,408.8 493.0,422.2 493.5,403.1 494.0,424.4 494.5,408.1 495.0,423.0 495.5,406.2 496.0,419.4 496.5,413.4 497.0,424.0 497.5,412.7 498.0,424.4 498.5,417.0 499.0,431.2 499.5,423.2 500.0,429.6 500.5,418.0 501.0,425.8 501.5,411.8 502.0,418.0 502.5,403.8 503.0,414.0 503.5,405.3 504.0,417.5 504.5,405.5 505.0,421.3 505.5,412.3 506.0,416.3 506.5,402.3 507.0,408.8 507.5,396.0 508.0,401.9 508.5,387.8 509.0,397.5 509.5,381.8 510.0,397.0 510.5,389.3 511.0,400.4 511.5,397.2 512.0,405.7 512.5,395.4 513.0,405.1 513.5,394.6 514.0,403.4 514.5,383.4 515.0,401.2 515.5,389.1 516.0,400.7 516.5,388.4 517.0,400.1 517.5,389.9 518.0,397.4 518.5,387.5 519.0,398.4 519.5,389.1 520.0,400.8 520.5,390.8 521.0,401.2 521.5,396.5 522.0,401.4 522.5,391.7 523.0,403.5 523.5,392.2 524.0,408.3 524.5,396.3 525.0,411.1 525.5,402.2 526.0,415.6 526.5,403.0 527.0,415.0 527.5,409.0 528.0,419.4 528.5,412.9 529.0,427.6 529.5,415.9 530.0,423.4 530.5,409.5 531.0,419.1 531.5,411.3 532.0,418.6 532.5,410.8 533.0,427.7 533.5,415.9 534.0,431.0 534.5,423.0 535.0,434.3 535.5,426.4 536.0,444.5 536.5,431.1 537.0,442.6 537.5,437.3 538.0,447.7 538.5,439.1 539.0,452.3 539.5,444.4 540.0,457.8 540.5,446.1 541.0,459.5 541.5,453.6 542.0,466.8 542.5,459.8 543.0,473.5 543.5,466.6 544.0,478.4 544.5,467.4 545.0,478.1 545.5,468.3 546.0,475.6 546.5,466.7 547.0,473.7 547.5,462.6 548.0,474.5 548.5,464.3 549.0,473.4 549.5,466.9 550.0,471.7 550.5,460.7 551.0,467.9 551.5,458.2 552.0,468.1 552.5,461.5 553.0,468.6 553.5,461.8 554.0,471.5 554.5,462.5 555.0,470.9 555.5,461.8 556.0,467.1 556.5,456.5 557.0,462.6 557.5,450.8 558.0,457.6 558.5,444.5 559.0,458.9 559.5,446.3 560.0,461.9 560.5,452.8 561.0,467.4 561.5,455.6 562.0,464.9 562.5,457.0 563.0,470.5 563.5,466.2 564.0,480.5 564.5,476.6 565.0,485.0 565.5,477.3 566.0,492.5 566.5,485.9 567.0,496.4 567.5,485.2 568.0,496.1 568.5,491.2 569.0,506.6 569.5,490.3 570.0,507.9 570.5,488.3 571.0,501.0 571.5,479.7 572.0,490.1 572.5,476.5 573.0,491.1 573.5,471.9 574.0,486.7 574.5,465.1 575.0,475.9 575.5,465.9 576.0,474.1 576.5,456.8 577.0,468.8 577.5,456.2 578.0,462.6 578.5,451.9 579.0,462.2 579.5,450.9 580.0,461.3 580.5,444.3 581.0,453.6 581.5,443.7 582.0,448.5 582.5,442.7 583.0,455.6 583.5,442.8 584.0,452.6 584.5,442.0 585.0,449.0 585.5,439.0 586.0,443.3 586.5,435.3 587.0,448.8 587.5,444.0 588.0,463.5 588.5,443.7 589.0,453.2 589.5,436.5 590.0,444.2 590.5,426.9 591.0,435.4 591.5,421.4 592.0,427.1 592.5,413.8 593.0,424.7 593.5,415.1 594.0,419.6 594.5,409.8 595.0,416.9 595.5,408.3 596.0,420.7 596.5,409.7 597.0,419.3 597.5,404.4 598.0,414.0 598.5,403.8 599.0,411.7 599.5,402.3 600.0,414.8 600.5,402.4 601.0,417.3 601.5,409.1 602.0,418.5 602.5,409.7 603.0,422.0 603.5,409.0 604.0,420.6 604.5,413.7 605.0,422.2 605.5,415.8 606.0,425.0 606.5,417.9 607.0,428.3 607.5,417.0 608.0,432.5 608.5,421.9 609.0,433.5 609.5,425.6 610.0,438.6 610.5,424.0 611.0,441.0 611.5,427.7 612.0,435.9 612.5,430.9 613.0,442.3 613.5,433.0 614.0,445.7 614.5,434.8 615.0,441.1 615.5,428.7 616.0,439.3 616.5,425.1 617.0,431.0 617.5,420.8 618.0,426.3 618.5,414.8 619.0,426.2 619.5,412.3 620.0,422.1 620.5,408.6 621.0,420.8 621.5,408.3 622.0,418.8 622.5,408.1 623.0,419.4 623.5,404.4 624.0,417.9 624.5,401.3 625.0,408.6 625.5,396.9 626.0,406.2 626.5,401.5 627.0,414.3 627.5,406.3 628.0,415.1 628.5,407.9 629.0,416.0 629.5,395.6 630.0,415.5 630.5,395.9 631.0,412.0 631.5,401.3 632.0,411.4 632.5,402.6 633.0,412.7 633.5,401.5 634.0,407.9 634.5,396.4 635.0,407.7 635.5,396.5 636.0,400.6 636.5,394.3 637.0,408.9 637.5,393.8 638.0,411.4 638.5,395.4 639.0,411.3 639.5,403.8 640.0,419.0 640.5,406.6 641.0,413.0 641.5,400.1 642.0,411.8 642.5,399.7 643.0,411.9 643.5,400.3 644.0,410.9 644.5,396.6 645.0,408.1 645.5,396.1 646.0,409.9 646.5,402.7 647.0,414.9 647.5,402.9 648.0,411.4 647.8,404.2 648.0,503.0 649.0,503.0 649.2,404.2 648.5,400.8 649.0,404.9 649.5,394.3 650.0,403.4 650.5,391.5 651.0,399.0 651.5,389.3 652.0,400.2 652.5,388.4 653.0,393.7 653.5,382.0 654.0,391.0 654.5,375.4 655.0,384.8 655.5,363.1 656.0,387.2 656.5,366.8 657.0,384.5 657.5,369.5 658.0,396.4 658.5,379.8 659.0,393.2 659.5,376.1 660.0,392.9 660.5,377.3 661.0,394.8 660.9,380.3 661.1,437.0 661.9,437.0 662.1,380.3 661.5,379.1 662.0,394.7 662.5,379.7 663.0,390.5 663.5,382.6 664.0,393.5 664.5,378.6 665.0,393.0 665.5,383.8 666.0,400.0 666.5,391.5 667.0,397.9 667.5,389.6 668.0,398.5 668.5,389.6 669.0,399.9 669.5,391.5 670.0,403.5 670.5,394.1 671.0,402.9 671.5,396.0 672.0,406.8 672.5,397.5 673.0,406.5 673.5,393.6 674.0,401.5 674.5,390.5 675.0,405.5 675.5,392.0 676.0,406.7 676.5,393.1 677.0,402.9 677.5,394.8 678.0,405.8 678.5,394.5 679.0,405.1 679.5,396.1 680.0,407.8 680.5,399.9 680.4,404.5 680.6,430.0 681.4,430.0 681.6,404.5 681.0,408.4 681.5,400.3 682.0,408.3 682.5,401.5 683.0,409.9 683.5,400.6 684.0,410.8 684.5,403.5 685.0,410.9 685.5,401.3 686.0,410.2 686.5,400.8 687.0,409.5 687.5,399.6 688.0,410.2 688.5,401.7 689.0,411.3 689.5,403.6 690.0,414.9 690.5,408.6 691.0,420.6 691.5,411.0 692.0,422.3 692.5,403.4 693.0,420.8 693.5,409.9 694.0,425.3 694.5,417.9 695.0,430.4 695.5,421.7 696.0,437.0 696.5,423.9 697.0,435.7 697.5,422.0 698.0,438.8 698.5,412.1 698.4,429.0 698.6,459.0 699.4,459.0 699.6,429.0 699.0,432.5 699.5,423.8 700.0,434.5 700.5,421.2 701.0,431.5 701.5,422.5 702.0,431.4 702.5,421.4 703.0,430.7 703.5,418.7 704.0,429.5 704.5,415.0 705.0,424.8 705.5,411.3 706.0,420.7 706.5,408.5 707.0,413.1 707.5,402.8 708.0,410.1 708.5,402.8 709.0,408.9 709.5,394.1 710.0,403.0 710.5,394.8 711.0,404.5 711.5,392.3 712.0,398.7 712.5,387.3 713.0,397.9 713.5,385.9 714.0,397.6 714.5,380.6 715.0,390.9 715.5,377.8 716.0,386.2 716.5,359.3 717.0,382.3 717.5,356.1 718.0,383.0 718.5,367.1 719.0,382.3 719.5,365.0 720.0,374.3 720.5,365.2 721.0,374.6 721.5,365.0 722.0,374.7 722.5,363.7 723.0,371.2 723.5,356.0 724.0,363.5 724.5,352.3 725.0,362.5 725.5,351.9 726.0,363.5 726.5,353.9 727.0,378.4 727.5,359.9 728.0,370.3 728.5,355.5 729.0,363.7 729.5,350.5 730.0,360.3 730.5,347.9 731.0,358.4 731.5,354.3 732.0,364.6 732.5,351.6 733.0,362.7 733.5,352.3 734.0,363.1 734.5,355.8 735.0,365.9 735.5,355.6 736.0,370.3 736.5,358.8 737.0,372.4 737.5,368.4 738.0,378.5 738.5,370.3 739.0,388.1 739.5,378.9 740.0,394.2 740.5,384.0 741.0,400.4 741.5,385.5 742.0,405.7 742.5,391.0 743.0,405.5 743.5,394.9 744.0,424.7 744.5,400.6 745.0,421.2 745.5,401.7 746.0,417.3 746.5,401.3 747.0,408.7 747.5,402.2 748.0,410.7 748.5,401.8 749.0,412.8 748.8,406.0 749.0,468.0 750.0,468.0 750.2,406.0 749.5,403.8 750.0,413.7 750.5,403.1 751.0,412.3 751.5,402.0 752.0,414.7 752.5,405.2 753.0,413.1 753.5,404.0 754.0,412.5 754.5,402.3 755.0,414.9 755.5,403.2 756.0,413.1 756.5,401.6 757.0,412.9 757.5,401.0 758.0,409.7 758.5,402.3 759.0,413.3 759.5,398.5 760.0,409.5 760.5,399.4 761.0,406.0 761.5,393.8 762.0,401.8 762.5,393.5 763.0,401.0 763.5,387.1 764.0,393.8 764.5,381.9 765.0,385.8 765.5,376.6 766.0,385.6 766.5,368.3 766.2,374.0 766.5,475.0 767.5,475.0 767.8,374.0 767.0,376.3 767.5,363.2 768.0,367.5 768.5,359.8 769.0,370.6 769.5,356.3 770.0,372.3 770.5,357.5 771.0,377.4 771.5,358.3 772.0,380.9 772.5,354.7 773.0,375.5 773.5,362.3 774.0,377.4 774.5,372.8 775.0,378.0 775.5,368.4 776.0,379.2 776.5,369.6 777.0,377.8 777.5,362.4 778.0,373.4 778.5,359.2 779.0,369.3 779.5,352.4 780.0,360.1 780.5,348.0 781.0,356.4 781.5,341.4 782.0,350.5 782.5,340.1 783.0,347.8 783.5,335.8 784.0,344.9 784.5,333.4 785.0,345.6 785.5,336.7 786.0,346.3 786.5,338.3 787.0,346.5 787.5,327.1 788.0,344.6 788.5,325.0 789.0,341.5 789.5,326.5 790.0,340.1 790.5,331.0 791.0,343.7 791.5,333.3 792.0,339.7 792.5,310.7 793.0,332.9 793.5,307.3 794.0,333.6 794.5,324.8 795.0,334.2 795.5,322.9 796.0,344.4 796.5,324.7 797.0,337.7 797.5,329.1 798.0,339.7 798.5,322.2 799.0,331.0 799.5,317.0 800.0,327.0 800.5,314.2 801.0,318.4 801.5,305.1 802.0,316.9 802.5,300.6 803.0,310.3 803.5,294.5 804.0,306.6 804.5,290.7 805.0,312.0 805.5,290.5 806.0,317.1 806.5,294.9 807.0,313.3 807.5,308.0 808.0,319.7 808.5,308.8 809.0,319.7 809.5,306.4 810.0,315.5 810.5,307.6 811.0,321.0 811.5,314.4 812.0,332.3 812.5,321.9 813.0,335.4 813.5,325.0 814.0,336.0 814.5,310.7 815.0,335.3 815.5,305.6 816.0,332.9 816.5,317.8 817.0,337.7 817.5,324.5 818.0,340.8 818.5,328.0 819.0,340.3 819.5,331.9 820.0,340.6 820.5,332.3 821.0,345.3 821.5,333.7 822.0,346.7 822.5,336.1 823.0,351.7 823.5,330.6 824.0,353.6 823.8,344.6 824.0,423.0 825.0,423.0 825.2,344.6 824.5,333.7 825.0,356.0 825.5,335.3 826.0,357.7 826.5,342.6 827.0,352.1 827.5,341.2 828.0,359.1 828.5,346.9 829.0,361.3 829.5,345.8 830.0,361.3 830.5,341.7 831.0,362.9 831.5,344.6 832.0,362.8 832.5,351.1 833.0,375.7 833.5,351.5 834.0,367.7 834.5,356.8 835.0,372.3 835.5,354.5 836.0,365.8 836.5,354.5 837.0,365.4 837.5,350.9 838.0,363.2 838.5,352.3 839.0,363.8 839.5,352.0 840.0,378.6 840.5,354.0 841.0,368.4 841.5,354.4 842.0,368.9 842.5,361.1 843.0,375.4 843.5,364.9 844.0,382.5 844.5,362.3 845.0,376.4 845.5,367.5 846.0,377.7 846.5,364.9 847.0,380.5 847.5,369.2 848.0,386.2 848.5,366.8 849.0,385.2 849.5,370.2 850.0,382.8 850.5,371.0 851.0,380.1 851.5,357.0 852.0,380.3 852.5,360.0 853.0,385.3 853.5,367.6 854.0,386.4 854.5,364.7 855.0,379.2 855.5,367.9 856.0,379.0 856.5,368.4 857.0,381.2 857.5,369.5 858.0,382.2 858.5,369.0 859.0,380.2 859.5,360.3 860.0,385.6 860.5,369.1 861.0,379.6 861.5,369.4 862.0,381.7 862.5,366.4 863.0,380.0 862.8,372.3 863.0,414.0 864.0,414.0 864.2,372.3 863.5,367.8 864.0,377.9 864.5,361.0 865.0,389.7 865.5,361.1 866.0,390.3 866.5,362.6 867.0,373.5 867.5,359.6 868.0,373.1 868.5,357.2 869.0,372.0 869.5,353.7 870.0,370.5 870.5,358.6 871.0,370.5 871.5,360.1 872.0,371.8 872.5,361.9 873.0,372.1 873.5,363.9 874.0,370.2 874.5,359.0 875.0,371.2 875.5,357.4 876.0,370.2 876.5,356.9 877.0,368.1 877.5,353.8 878.0,366.7 878.5,353.7 879.0,369.3 879.5,357.8 880.0,370.0 880.5,358.0 881.0,366.6 881.5,355.6 882.0,366.5 882.5,351.7 883.0,365.8 883.5,352.2 884.0,364.0 884.5,351.8 885.0,366.6 885.5,351.9 886.0,363.6 886.5,350.6 887.0,379.0 887.5,351.0 888.0,380.4 888.5,356.3 889.0,370.4 889.5,339.3 890.0,366.5 890.5,359.4 891.0,371.3 891.5,361.5 892.0,374.1 892.5,358.4 893.0,375.9 893.5,358.6 894.0,372.3 894.5,357.0 895.0,372.5 895.5,359.9 896.0,374.8 896.5,357.2 897.0,373.7 897.5,354.8 898.0,368.5 898.5,355.9 899.0,368.2 899.5,355.0 900.0,366.2 900.5,349.3 901.0,364.4 901.5,349.6 902.0,365.7 902.5,352.7 903.0,371.7 903.5,345.5 904.0,369.2 904.5,354.9 905.0,366.9 905.5,352.9 906.0,368.6 906.5,351.7 907.0,369.3 907.5,358.0 908.0,371.1 908.5,355.7 909.0,371.0 909.5,355.6 910.0,369.8 910.5,352.1 911.0,365.7 911.5,356.6 912.0,369.1 912.5,356.4 913.0,368.3 913.5,355.5 914.0,374.8 914.5,351.1 915.0,367.5 915.5,352.6 916.0,366.6 916.5,345.5 917.0,360.6 917.5,346.8 918.0,357.1 918.5,345.6 919.0,356.3 919.5,348.4 920.0,359.6 920.5,349.1 921.0,361.3 921.5,350.4 922.0,363.7 922.5,350.3 923.0,361.7 923.5,352.2 924.0,362.9 924.5,349.6 925.0,360.9 925.5,348.4 926.0,363.9 926.5,353.0 927.0,366.4 927.5,353.8 928.0,367.8 928.5,346.9 929.0,370.0 929.5,346.7 930.0,373.4 930.5,358.5 931.0,365.2 931.5,354.3 932.0,369.5 932.5,357.3 933.0,374.5 933.5,360.7 934.0,379.9 934.5,364.9 935.0,388.7 935.5,362.1 936.0,388.0 936.5,364.8 937.0,378.0 937.5,363.1 938.0,378.4 938.5,363.9 939.0,377.7 939.5,360.9 940.0,374.0 940.5,361.9 941.0,372.1 941.5,357.4 942.0,369.3 942.5,356.9 943.0,373.8 943.5,363.6 944.0,373.4 944.5,362.4 945.0,373.1 945.5,363.5 946.0,375.0 946.5,362.0 947.0,371.5 947.5,362.1 948.0,373.5 948.5,360.4 949.0,373.1 949.5,363.1 950.0,372.0 950.5,358.7 951.0,375.7 951.5,359.1 952.0,373.3 952.5,357.3 953.0,372.5 953.5,351.6 954.0,369.5 954.5,346.3 955.0,372.1 955.5,350.1 956.0,373.4 956.5,359.6 957.0,377.9 956.4,369.4 956.8,574.0 957.7,574.0 958.0,369.4 957.5,360.2 958.0,375.8 958.5,348.4 959.0,375.5 959.5,354.0 960.0,378.2 960.5,366.3 961.0,377.9 961.5,362.6 962.0,382.3 962.5,362.0 963.0,377.8 963.5,363.1 964.0,380.7 964.5,364.3 965.0,376.9 965.5,362.8 966.0,380.8 966.5,364.3 967.0,380.1 967.5,367.3 968.0,388.9 968.5,365.7 969.0,387.1 969.5,366.7 970.0,378.8 970.5,365.4 971.0,379.7 971.5,368.1 972.0,379.5 972.5,363.8 973.0,380.3 973.5,367.4 974.0,380.7 974.5,365.0 975.0,380.7 975.5,365.6 976.0,380.3 976.5,370.5 977.0,381.0 977.5,368.1 978.0,380.5 978.5,368.4 979.0,379.2 979.5,367.9 980.0,382.9 980.5,371.5 981.0,385.9 981.5,376.3 982.0,388.8 982.5,364.5 983.0,392.1 983.5,361.3 984.0,391.1 984.5,364.6 985.0,391.2 985.5,377.1 986.0,391.2 986.5,377.9 987.0,392.4 987.5,381.6 988.0,395.5 988.5,384.3 989.0,399.8 989.5,388.4 990.0,400.2 990.5,393.4 991.0,403.5 991.5,391.5 992.0,402.7 992.5,391.7 993.0,406.5 993.5,394.8 994.0,410.2 994.5,397.6 995.0,412.5 995.5,399.2 996.0,413.0 996.5,400.6 997.0,411.8 997.5,401.9 998.0,419.2 998.5,406.6 998.2,406.0 998.5,596.0 999.5,596.0 999.8,406.0 999.0,417.0 999.5,398.1 1000.0,411.8 1000.5,399.6 1001.0,410.4 1001.5,397.9 1002.0,414.6 1002.5,400.5 1003.0,416.6 1003.5,403.4 1004.0,416.8 1004.5,409.7 1005.0,419.3 1005.5,409.2 1006.0,423.2 1006.5,411.5 1007.0,423.4 1007.5,415.6 1008.0,430.5 1008.5,408.9 1009.0,421.5 1009.5,408.0 1010.0,424.4 1010.5,410.7 1011.0,419.5 1011.5,404.8 1012.0,419.7 1012.5,408.3 1013.0,424.1 1013.5,415.9 1014.0,428.6 1014.5,419.3 1015.0,431.2 1015.5,419.2 1016.0,436.7 1016.5,424.8 1017.0,434.5 1017.5,421.5 1018.0,434.3 1018.5,422.4 1019.0,435.1 1019.5,421.6 1020.0,437.0 1020.5,425.4 1021.0,445.0 1021.5,423.9 1022.0,446.3 1022.5,423.8 1023.0,449.2 1023.5,430.0 1024.0,443.4 1024.5,429.9 1025.0,446.3 1025.5,433.5 1026.0,446.1 1026.5,431.5 1027.0,446.3 1027.5,437.4 1028.0,448.4 1028.5,434.7 1029.0,446.7 1029.5,433.2 1030.0,446.3 1030.5,433.1 1031.0,445.4 1031.5,435.7 1032.0,447.0 1032.5,434.1 1033.0,443.9 1033.5,432.4 1034.0,449.7 1034.5,438.5 1035.0,449.7 1035.5,435.9 1036.0,463.3 1036.5,441.0 1037.0,467.6 1037.5,449.2 1038.0,465.3 1038.5,439.0 1039.0,466.5 1039.5,439.0 1040.0,464.3 1040.5,452.2 1041.0,468.5 1041.5,457.6 1042.0,467.9 1042.5,457.8 1043.0,470.4 1043.5,459.2 1044.0,482.7 1044.5,463.1 1045.0,484.5 1045.5,468.2 1046.0,482.4 1046.5,468.4 1047.0,483.4 1047.5,467.2 1048.0,481.9 1048.5,468.7 1049.0,481.9 1049.5,473.1 1050.0,485.9 1050.5,474.4 1051.0,501.6 1051.5,478.0 1052.0,504.0 1052.5,478.9 1053.0,505.4 1053.5,484.7 1054.0,498.0 1054.5,487.5 1055.0,502.5 1055.5,488.0 1056.0,501.3 1056.5,491.2 1057.0,510.2 1057.5,498.7 1058.0,510.4 1058.5,498.4 1059.0,517.5 1059.5,502.7 1060.0,520.1 1059.8,508.0 1060.0,574.0 1061.0,574.0 1061.2,508.0 1060.5,504.2 1061.0,513.2 1061.5,504.7 1062.0,513.1 1062.5,499.7 1063.0,511.9 1063.5,499.0 1064.0,510.3 1064.5,498.9 1065.0,507.9 1065.5,498.5 1066.0,509.0 1066.5,496.3 1067.0,507.5 1067.5,498.6 1068.0,522.3 1068.5,499.7 1069.0,524.8 1069.5,503.8 1070.0,518.2 1070.5,503.0 1071.0,526.3 1071.5,501.9 1072.0,530.4 1072.5,505.7 1073.0,523.7 1073.5,508.6 1074.0,526.2 1074.5,516.5 1075.0,530.1 1075.5,519.0 1076.0,526.7 1076.5,515.9 1077.0,530.8 1077.5,507.4 1078.0,528.9 1078.5,520.5 1079.0,532.7 1079.5,521.7 1080.0,543.6 1080.5,523.5 1081.0,546.8 1081.5,526.2 1082.0,544.1 1082.5,532.9 1083.0,544.0 1083.5,532.9 1084.0,547.2 1084.5,532.7 1085.0,544.6 1085.5,533.7 1086.0,550.2 1086.5,534.7 1087.0,558.4 1087.5,533.4 1088.0,558.8 1088.5,544.5 1089.0,564.5 1089.5,551.8 1090.0,569.9 1090.5,557.7 1091.0,571.8 1091.5,566.0 1092.0,586.2 1092.5,576.2 1093.0,595.6 1093.5,585.3 1094.0,605.1 1094.5,594.3 1095.0,609.3 1095.5,600.4 1096.0,618.5 1096.5,607.4 1097.0,618.6 1097.5,605.7 1098.0,613.4 1098.5,601.4 1099.0,612.0 1099.5,594.7 1100.0,616.1 1100.5,583.2 1101.0,605.4 1101.5,581.2 1102.0,605.0 1102.5,582.9 1103.0,608.6 1103.5,585.1 1104.0,600.9 1104.5,577.9 1105.0,588.7 1105.5,570.6 1106.0,590.6 1106.5,560.9 1107.0,587.4 1107.5,564.3 1108.0,591.2 1108.5,577.1 1109.0,591.2 1109.5,581.9 1110.0,593.6 1110.5,578.0 1111.0,596.5 1111.5,579.5 1112.0,598.3 1112.5,579.2 1113.0,591.0 1113.5,573.3 1114.0,583.2 1114.5,567.6 1115.0,588.5 1115.5,575.7 1116.0,594.2 1116.5,579.9 1117.0,599.0 1116.9,592.2 1117.1,616.0 1117.9,616.0 1118.1,592.2 1117.5,578.8 1118.0,591.7 1118.5,583.3 1119.0,594.9 1119.5,583.9 1120.0,600.1 1120.5,578.9 1121.0,595.1 1121.5,575.3 1122.0,591.6 1122.5,572.4 1123.0,589.0 1123.5,577.9 1124.0,595.8 1124.5,583.6 1125.0,599.8 1125.5,589.7 1126.0,605.9 1126.5,589.6 1126.0,600.3 1126.5,760.0 1127.4,760.0 1127.8,600.3 1127.0,611.2 1127.5,588.7 1128.0,609.6 1128.5,588.7 1129.0,612.9 1129.5,601.5 1130.0,614.5 1130.5,607.4 1131.0,618.6 1131.5,610.6 1132.0,620.2 1132.5,611.0 1133.0,622.6 1133.5,613.5 1134.0,628.0 1134.5,616.6 1135.0,635.4 1135.5,621.3 1136.0,639.8 1136.5,623.7 1137.0,638.9 1137.5,626.2 1138.0,641.7 1138.5,632.0 1139.0,641.8 1139.5,632.9 1140.0,648.1 1140.5,633.6 1141.0,649.0 1141.5,637.0 1142.0,650.6 1142.5,637.5 1143.0,650.8 1143.5,640.2 1144.0,656.4 1144.5,644.2 1145.0,657.4 1145.5,634.0 1146.0,661.5 1146.5,651.3 1147.0,662.7 1147.5,650.5 1148.0,663.3 1148.5,652.7 1149.0,666.1 1149.5,644.1 1150.0,660.6 1150.5,645.2 1151.0,660.2 1151.5,646.3 1152.0,658.8 1152.5,643.6 1153.0,656.3 1153.5,641.9 1154.0,656.7 1154.5,644.3 1155.0,656.9 1155.5,645.9 1156.0,666.1 1156.5,652.3 1157.0,668.1 1157.5,649.6 1158.0,662.2 1158.5,652.6 1159.0,664.4 1159.5,648.9 1160.0,668.7 1160.5,653.6 1161.0,669.7 1161.5,638.3 1162.0,673.5 1162.5,640.4 1163.0,670.3 1163.5,637.7 1164.0,672.6 1164.5,655.6 1165.0,672.7 1165.5,655.2 1166.0,672.9 1166.5,652.0 1167.0,671.4 1167.5,653.0 1168.0,667.1 1168.5,649.6 1169.0,665.6 1169.5,650.7 1170.0,662.3 1170.5,651.5 1171.0,665.5 1171.5,656.2 1172.0,671.0 1172.5,659.8 1173.0,671.4 1173.5,659.7 1174.0,673.3 1174.5,660.6 1175.0,676.5 1175.5,661.8 1176.0,679.4 1176.5,663.8 1177.0,677.6 1177.5,662.3 1178.0,676.1 1178.5,662.5 1179.0,674.5 1179.5,666.6 1180.0,678.6 1180.5,659.1 1181.0,675.1 1181.5,656.6 1182.0,673.9 1182.5,662.8 1183.0,674.9 1183.5,661.8 1184.0,668.9 1184.5,654.7 1185.0,667.7 1185.5,657.2 1186.0,670.7 1186.5,659.4 1187.0,667.9 1187.5,654.7 1188.0,664.4 1188.5,649.4 1189.0,660.9 1189.5,646.2 1190.0,658.6 1190.5,646.1 1191.0,654.2 1191.5,640.4 1192.0,666.3 1192.5,640.4 1193.0,662.7 1193.5,636.5 1194.0,647.6 1194.5,630.2 1195.0,652.8 1195.5,639.7 1196.0,654.4 1196.5,635.9 1197.0,650.2 1197.5,637.9 1198.0,649.5 1198.5,636.7 1199.0,651.0 1199.5,636.1 1200.0,662.5 1200.5,641.3 1201.0,664.8 1201.5,640.2 1202.0,651.4 1202.5,637.3 1203.0,652.1 1203.5,641.5 1204.0,656.3 1204.5,643.9 1205.0,658.7 1205.5,644.2 1206.0,658.6 1206.5,638.4 1207.0,657.1 1207.5,631.9 1208.0,649.9 1208.5,630.9 1209.0,649.5 1209.5,641.3 1210.0,657.6 1210.5,644.7 1211.0,654.8 1211.5,644.7 1212.0,660.6 1212.5,635.5 1213.0,662.5 1213.5,638.4 1214.0,659.4 1214.5,640.5 1215.0,659.8 1215.5,648.8 1216.0,665.0 1216.5,646.7 1217.0,665.3 1217.5,646.6 1218.0,671.2 1218.5,642.7 1219.0,671.6 1219.5,644.8 1220.0,669.3 1220.5,640.0 1221.0,646.8 1221.5,637.4 1222.0,646.8 1222.5,633.6 1223.0,646.3 1223.5,635.9 1224.0,654.4 1224.5,635.3 1225.0,647.8 1225.5,635.4 1226.0,647.6 1226.5,631.7 1227.0,644.3 1224.8,637.3 1226.8,855.0 1227.7,855.0 1229.6,637.3 1227.5,633.4 1228.0,643.6 1228.5,630.5 1229.0,636.3 1229.5,626.0 1230.0,637.8 1230.5,624.8 1231.0,640.2 1231.5,626.4 1232.0,636.9 1232.5,616.1 1233.0,635.8 1233.5,612.9 1234.0,631.0 1234.5,619.8 1235.0,630.4 1235.5,617.7 1236.0,629.7 1236.5,614.7 1237.0,626.5 1237.5,612.5 1238.0,625.3 1238.5,614.7 1239.0,629.8 1239.5,617.7 1240.0,633.5 1240.5,616.7 1241.0,628.5 1241.5,613.0 1242.0,629.0 1242.5,614.8 1243.0,631.3 1243.5,616.4 1244.0,631.9 1244.5,608.3 1245.0,632.6 1245.5,613.5 1246.0,634.4 1246.5,621.7 1247.0,640.3 1247.5,623.6 1248.0,633.8 1248.5,622.3 1249.0,632.4 1249.5,618.5 1250.0,633.2 1250.5,617.8 1251.0,634.0 1251.5,624.4 1252.0,635.1 1252.5,624.3 1253.0,636.6 1253.5,622.3 1254.0,632.9 1254.5,618.6 1255.0,639.1 1255.5,617.4 1256.0,631.8 1256.5,617.8 1257.0,630.2 1257.5,616.5 1258.0,627.6 1258.5,607.0 1259.0,625.9 1259.5,609.8 1260.0,620.5 1260.5,607.0 1261.0,619.9 1261.5,607.7 1262.0,617.2 1262.5,602.2 1263.0,618.0 1263.5,605.2 1264.0,615.9 1264.5,600.9 1265.0,612.7 1265.5,601.5 1266.0,610.7 1266.5,598.3 1267.0,611.8 1267.5,593.6 1268.0,606.8 1268.5,592.0 1269.0,605.6 1269.5,589.8 1270.0,604.1 1270.5,592.7 1271.0,604.2 1271.5,593.2 1272.0,600.2 1272.5,589.1 1273.0,600.5 1273.5,592.2 1274.0,598.2 1274.5,588.3 1275.0,600.1 1275.5,586.4 1276.0,596.5 1276.5,585.3 1277.0,598.9 1277.5,584.8 1278.0,598.4 1278.5,587.3 1279.0,595.9 1279.5,582.1 1280.0,592.2 1280.5,579.4 1281.0,599.8 1281.5,577.4 1282.0,584.8 1282.5,574.5 1283.0,585.6 1283.5,574.1 1284.0,587.3 1284.5,572.4 1285.0,583.4 1285.5,569.9 1286.0,580.8 1285.6,577.1 1286.0,695.7 1287.0,695.7 1287.4,577.1 1286.5,567.9 1287.0,581.3 1287.5,566.5 1288.0,578.2 1288.5,561.6 1289.0,580.6 1289.5,567.4 1290.0,582.8 1290.5,566.5 1291.0,582.6 1291.5,568.9 1292.0,583.2 1292.5,566.6 1293.0,583.9 1293.5,563.1 1294.0,582.9 1294.5,570.1 1295.0,581.9 1295.5,567.6 1296.0,582.5 1296.5,564.0 1297.0,578.4 1297.5,560.0 1298.0,580.0 1298.5,565.6 1299.0,578.7 1299.5,569.1 1300.0,580.4 1300.5,565.2 1301.0,577.4 1301.5,563.1 1302.0,572.2 1302.5,560.0 1303.0,573.0 1303.5,561.1 1304.0,567.5 1304.5,555.2 1305.0,565.3 1305.5,547.3 1306.0,557.0 1306.5,545.5 1307.0,553.6 1307.5,543.0 1308.0,551.5 1308.5,541.9 1309.0,549.6 1309.5,537.5 1310.0,549.8 1310.5,533.1 1311.0,544.6 1311.5,534.7 1312.0,546.3 1312.5,534.2 1313.0,544.9 1313.5,533.9 1314.0,545.0 1314.5,536.1 1315.0,556.1 1315.5,537.3 1316.0,560.9 1316.5,539.5 1317.0,550.5 1317.5,538.2 1318.0,563.5 1318.5,540.0 1319.0,567.0 1319.5,539.6 1320.0,551.9 1320.5,542.6 1321.0,554.1 1321.5,547.2 1322.0,557.9 1322.5,548.0 1323.0,558.6 1323.5,548.6 1324.0,557.7 1324.5,542.0 1325.0,562.2 1325.5,547.4 1326.0,567.1 1326.5,553.3 1327.0,561.1 1327.5,550.3 1328.0,560.2 1328.5,548.6 1329.0,555.7 1329.5,544.9 1330.0,554.1 1330.5,540.8 1331.0,553.1 1331.5,540.7 1332.0,549.9 1332.5,537.4 1333.0,549.5 1333.5,539.7 1334.0,552.8 1334.5,545.3 1335.0,568.8 1335.5,551.1 1335.0,554.6 1335.5,761.0 1336.4,761.0 1336.8,554.6 1336.0,564.0 1336.5,549.5 1337.0,559.6 1337.5,547.8 1338.0,556.7 1338.5,544.3 1339.0,555.4 1339.5,540.1 1340.0,550.0 1340.5,541.5 1341.0,548.9 1341.5,536.4 1342.0,552.6 1342.5,533.6 1343.0,552.3 1343.5,532.0 1344.0,548.5 1344.5,528.5 1345.0,540.8 1345.5,525.4 1346.0,534.8 1346.5,524.5 1347.0,530.4 1347.5,519.7 1348.0,530.2 1348.5,511.2 1349.0,528.6 1349.5,509.5 1349.0,523.1 1349.2,642.0 1350.0,642.0 1350.2,523.1 1350.0,524.1 1350.5,511.6 1351.0,518.0 1351.5,507.5 1352.0,518.9 1352.5,501.9 1353.0,518.6 1353.5,501.4 1354.0,512.6 1354.5,495.5 1355.0,504.5 1355.5,489.5 1356.0,503.1 1356.5,497.9 1357.0,513.5 1357.5,504.0 1358.0,523.8 1358.5,507.1 1359.0,524.1 1359.5,506.5 1360.0,517.2 1360.5,504.2 1361.0,516.0 1361.5,513.5 1362.0,530.0 1362.5,513.8 1363.0,538.1 1363.5,518.7 1364.0,538.7 1364.5,524.1 1365.0,531.8 1365.5,522.7 1366.0,532.0 1366.5,513.6 1367.0,524.1 1367.5,509.4 1368.0,519.6 1368.5,510.0 1369.0,517.9 1369.5,504.1 1370.0,518.2 1370.5,505.3 1371.0,511.9 1371.5,501.4 1372.0,508.7 1372.5,494.9 1373.0,498.6 1373.5,482.9 1374.0,494.3 1374.5,470.9 1375.0,488.5 1375.5,469.2 1376.0,475.6 1376.5,462.3 1377.0,473.6 1377.5,459.5 1378.0,467.2 1378.5,460.4 1379.0,467.4 1379.5,456.8 1380.0,464.2 1380.5,452.9 1381.0,465.6 1381.5,452.5 1382.0,463.5 1382.5,450.1 1383.0,464.2 1383.5,452.7 1384.0,457.6 1384.5,449.1 1385.0,459.9 1385.5,449.1 1386.0,458.8 1386.5,443.4 1387.0,453.2 1387.5,439.6 1388.0,453.9 1388.5,441.7 1389.0,453.5 1389.5,443.7 1390.0,455.4 1390.5,443.6 1391.0,455.3 1391.5,440.4 1392.0,459.6 1392.5,445.3 1393.0,458.1 1393.5,443.9 1394.0,459.8 1394.5,445.3 1395.0,461.5 1395.5,448.6 1396.0,454.4 1393.5,446.7 1396.0,667.6 1397.0,667.6 1399.5,446.7 1396.5,438.6 1397.0,450.3 1397.5,438.5 1398.0,444.8 1398.5,433.8 1399.0,447.6 1399.5,428.8 1400.0,442.2 1400.5,425.6 1401.0,438.0 1401.5,425.8 1402.0,436.3 1402.5,427.3 1403.0,434.8 1403.5,420.9 1404.0,432.7 1404.5,416.5 1405.0,429.8 1405.5,413.7 1406.0,432.8 1406.5,426.5 1407.0,438.1 1407.5,427.9 1408.0,439.2 1408.5,427.0 1409.0,437.9 1409.5,422.6 1410.0,434.1 1410.5,420.7 1411.0,426.4 1411.5,410.3 1412.0,432.8 1412.5,412.5 1413.0,421.3 1413.5,413.5 1414.0,420.3 1414.5,409.6 1415.0,418.8 1415.5,404.7 1416.0,415.4 1416.5,404.2 1417.0,416.3 1417.5,398.2 1418.0,410.8 1418.5,403.5 1419.0,408.5 1419.5,396.1 1420.0,405.6 1420.5,391.6 1421.0,396.8 1421.5,385.2 1422.0,394.1 1422.5,381.1 1423.0,386.4 1423.5,370.5 1424.0,381.9 1424.5,373.5 1425.0,376.2 1425.0,371.7 1425.2,413.0 1425.8,413.0 1426.0,371.7 1425.5,368.1 1426.0,374.9 1426.5,363.2 1427.0,367.3 1427.5,353.4 1428.0,369.8 1428.5,350.3 1429.0,365.5 1429.5,348.8 1430.0,360.5 1430.5,344.7 1431.0,356.0 1431.5,334.3 1432.0,357.6 1432.5,332.5 1433.0,354.1 1433.5,337.5 1434.0,348.1 1434.5,339.4 1435.0,345.0 1435.5,332.0 1436.0,342.5 1436.5,329.4 1437.0,336.6 1437.5,329.9 1438.0,338.1 1438.5,323.4 1439.0,331.9 1439.5,317.9 1440.0,328.4 1440.5,319.7 1441.0,336.2 1441.5,315.5 1442.0,331.7 1442.5,313.2 1443.0,324.9 1443.5,315.5 1444.0,325.9 1444.5,312.6 1445.0,319.0 1445.5,309.4 1446.0,320.3 1446.5,308.3 1447.0,319.7 1447.5,311.5 1448.0,317.7 1448.5,310.8 1449.0,323.0 1449.5,314.5 1450.0,329.8 1450.5,317.2 1451.0,328.3 1451.5,319.2 1452.0,331.0 1452.5,324.0 1453.0,334.6 1453.5,326.2 1454.0,339.1 1454.5,327.6 1455.0,340.5 1455.5,326.2 1456.0,334.3 1456.5,322.5 1457.0,332.5 1457.5,322.5 1458.0,334.3 1458.5,322.6 1459.0,336.8 1459.5,327.8 1460.0,341.9 1460.5,331.3 1461.0,341.8 1461.5,329.0 1462.0,337.4 1462.5,324.1 1463.0,333.7 1463.5,322.4 1464.0,328.6 1464.5,320.3 1465.0,324.0 1465.5,309.9 1466.0,315.4 1466.5,300.5 1467.0,300.8 1467.5,282.3 1468.0,289.0 1468.5,276.6 1469.0,283.2 1469.5,271.7 1470.0,280.4 1470.5,267.9 1471.0,278.1 1471.5,267.4 1472.0,277.9 1472.5,270.0 1473.0,285.1 1473.5,277.5 1474.0,288.6 1474.5,281.9 1475.0,293.5 1475.5,282.4 1476.0,295.9 1476.5,287.1 1477.0,296.3 1477.5,287.4 1478.0,299.6 1478.5,291.5 1479.0,304.6 1479.5,297.4 1480.0,308.2 1480.5,299.2 1481.0,312.5 1481.5,303.5 1482.0,318.2 1482.5,306.0 1483.0,317.4 1483.5,302.2 1484.0,309.8 1484.5,299.3 1485.0,305.5 1485.5,288.7 1486.0,297.3 1486.5,287.8 1487.0,293.5 1487.5,277.3 1488.0,290.7 1488.5,280.9 1489.0,296.4 1489.5,290.7 1490.0,302.3 1490.5,295.1 1491.0,308.1 1491.5,295.2 1492.0,309.9 1492.5,301.8 1493.0,314.0 1493.5,299.0 1494.0,307.5 1494.5,287.1 1495.0,295.9 1495.5,281.7 1496.0,286.5 1495.5,276.5 1496.0,485.0 1497.0,485.0 1497.5,276.5 1496.5,275.1 1497.0,280.5 1497.5,265.0 1498.0,270.8 1498.5,259.2 1499.0,259.9 1499.5,253.0 1500.0,266.0 1500.5,252.7 1501.0,269.1 1501.5,253.4 1502.0,275.9 1502.5,261.0 1503.0,268.5 1503.5,257.0 1504.0,261.3 1504.5,249.6 1505.0,256.6 1505.5,243.2 1506.0,251.4 1506.5,239.9 1507.0,250.0 1507.5,235.6 1508.0,242.2 1507.8,244.9 1508.0,236.0 1508.6,236.0 1508.8,244.9 1508.5,238.6 1509.0,252.6 1509.5,249.3 1510.0,262.6 1510.5,256.5 1511.0,268.4 1511.5,262.5 1512.0,270.5 1512.5,264.2 1513.0,275.0 1513.5,268.1 1514.0,287.4 1514.5,274.3 1515.0,293.7 1515.5,283.7 1516.0,300.9 1516.5,291.4 1517.0,305.7 1517.5,302.0 1518.0,317.9 1518.5,300.3 1519.0,306.5 1519.5,290.3 1520.0,305.1 1520.5,288.4 1521.0,299.8 1521.5,286.1 1522.0,299.6 1522.5,291.3 1523.0,301.5 1523.5,292.2 1524.0,303.0 1524.5,291.4 1525.0,302.4 1525.5,294.0 1526.0,303.0 1526.5,292.0 1527.0,303.5 1527.5,299.6 1528.0,309.4 1528.5,294.5 1529.0,303.3 1529.5,291.1 1530.0,299.8 1530.5,288.7 1531.0,300.0 1531.5,293.3 1532.0,302.0 1532.5,295.0 1533.0,305.2 1533.5,295.3 1534.0,305.3 1534.5,296.7 1535.0,311.0 1535.5,300.1 1536.0,312.8 1536.5,301.5 1537.0,315.4 1537.5,304.7 1538.0,317.8 1538.5,312.1 1539.0,322.7 1539.5,320.0 1540.0,333.8 1540.5,322.9 1541.0,338.9 1541.5,332.5 1542.0,347.5 1542.5,336.6 1543.0,350.7 1543.5,341.5 1544.0,353.0 1544.5,347.2 1545.0,371.5 1545.5,348.7 1546.0,376.7 1546.5,351.7 1547.0,376.8 1547.5,350.3 1548.0,355.4 1547.9,356.5 1548.1,382.0 1548.9,382.0 1549.1,356.5 1548.5,347.6 1549.0,358.5 1549.5,349.4 1550.0,354.3 1550.5,343.0 1551.0,357.0 1551.5,339.8 1552.0,351.9 1552.5,342.1 1553.0,353.5 1553.5,347.4 1554.0,360.6 1554.5,352.6 1555.0,365.2 1555.5,354.7 1556.0,373.6 1556.5,358.5 1557.0,377.9 1557.5,361.5 1558.0,369.8 1558.5,362.9 1559.0,375.5 1559.5,366.5 1560.0,377.4 1560.5,357.9 1561.0,382.3 1561.5,356.4 1562.0,380.4 1562.5,360.2 1563.0,381.3 1563.5,372.4 1564.0,380.9 1564.5,370.1 1565.0,385.4 1565.5,377.0 1566.0,383.9 1566.5,370.5 1567.0,377.2 1567.5,366.6 1568.0,376.4 1568.5,367.6 1569.0,377.2 1569.5,364.2 1570.0,378.0 1570.5,369.2 1571.0,379.4 1571.5,375.7 1572.0,385.2 1571.8,382.8 1572.0,441.5 1573.0,441.5 1573.2,382.8 1572.5,378.0 1573.0,389.2 1573.5,381.0 1574.0,390.9 1574.5,378.8 1575.0,401.3 1575.5,383.3 1576.0,405.9 1576.5,387.4 1577.0,397.6 1577.5,379.5 1578.0,396.1 1578.5,384.8 1579.0,395.0 1579.5,373.6 1580.0,397.7 1580.5,381.1 1581.0,397.6 1581.5,375.8 1582.0,401.0 1582.5,390.3 1583.0,402.3 1583.5,389.0 1584.0,414.8 1584.5,395.7 1585.0,420.9 1585.5,407.6 1586.0,420.4 1586.5,412.0 1587.0,424.3 1587.5,418.1 1588.0,432.1 1588.5,419.3 1589.0,429.1 1588.8,422.0 1589.0,541.0 1590.0,541.0 1590.2,422.0 1589.5,422.0 1590.0,430.2 1590.5,414.8 1591.0,423.4 1591.5,410.9 1592.0,419.3 1592.5,411.3 1593.0,420.3 1593.5,409.7 1594.0,418.5 1594.5,406.9 1595.0,415.1 1595.5,402.6 1596.0,411.1 1596.5,398.4 1597.0,411.4 1597.5,396.2 1598.0,406.8 1598.5,390.2 1599.0,402.7 1599.5,389.0 1600.0,398.7 1600.5,383.3 1601.0,401.0 1601.5,389.5 1602.0,402.6 1602.5,394.3 1603.0,404.0 1603.5,398.1 1604.0,415.8 1604.5,390.3 1605.0,420.9 1605.5,406.5 1606.0,426.5 1606.5,413.1 1607.0,421.1 1607.5,410.5 1608.0,416.6 1608.5,407.5 1609.0,415.6 1609.5,401.7 1610.0,414.0 1610.5,403.1 1611.0,415.6 1611.5,402.9 1612.0,413.0 1612.5,404.9 1613.0,415.3 1613.5,407.8 1614.0,421.6 1614.5,413.1 1615.0,417.8 1615.5,411.7 1616.0,416.8 1616.5,405.3 1617.0,411.0 1617.5,395.1 1618.0,407.5 1618.5,398.8 1619.0,409.9 1619.5,399.9 1620.0,416.2 1620.5,413.0 1621.0,428.9 1621.5,425.8 1622.0,445.3 1622.5,449.3 1623.0,464.2 1623.5,462.1 1624.0,481.4 1624.5,477.9 1625.0,495.8 1625.5,492.9 1626.0,514.3 1626.5,510.9 1627.0,529.8 1627.5,518.4 1628.0,546.5 1628.5,537.4 1629.0,561.8 1629.5,556.5 1630.0,576.7 1630.5,571.9 1631.0,585.6 1631.5,579.8 1632.0,598.1 1632.5,587.8 1633.0,603.0 1633.5,594.6 1634.0,605.0 1634.5,595.7 1635.0,605.7 1635.5,594.3 1636.0,605.2 1636.5,597.2 1637.0,610.0 1637.5,599.5 1638.0,609.3 1638.5,599.0 1639.0,606.5 1639.5,598.0 1640.0,604.0 1640.5,584.9 1641.0,591.9 1641.5,568.3 1642.0,580.3 1642.5,558.9 1643.0,572.2 1643.5,555.5 1644.0,568.1 1644.5,558.9 1645.0,571.4 1645.5,560.1 1646.0,575.6 1646.5,570.4 1647.0,580.4 1647.5,567.3 1648.0,574.7 1648.5,560.3 1649.0,567.5 1649.5,550.2 1650.0,561.8 1650.5,548.2 1651.0,551.0 1651.5,531.2 1652.0,536.0 1652.5,520.8 1653.0,519.4 1653.5,504.3 1654.0,506.4 1654.5,491.4 1655.0,503.1 1655.5,490.6 1656.0,497.0 1656.5,481.7 1657.0,492.3 1657.5,479.7 1658.0,489.6 1658.5,479.7 1659.0,482.8 1659.5,472.4 1660.0,481.3 1660.5,468.8 1661.0,474.7 1661.5,463.7 1662.0,470.2 1662.5,459.6 1663.0,465.4 1663.5,448.5 1664.0,462.0 1664.5,444.7 1665.0,453.4 1665.5,435.0 1666.0,446.2 1666.5,433.7 1667.0,439.9 1667.5,424.6 1668.0,429.1 1668.5,418.1 1669.0,425.3 1669.5,414.1 1669.1,418.2 1669.5,610.0 1670.5,610.0 1670.9,418.2 1670.0,427.6 1670.5,411.5 1671.0,427.1 1671.5,409.2 1672.0,429.2 1672.5,416.6 1673.0,431.5 1673.5,420.2 1674.0,439.4 1674.5,424.1 1675.0,436.9 1675.5,432.8 1676.0,447.8 1676.5,441.3 1677.0,458.5 1677.5,454.3 1678.0,466.9 1677.5,464.0 1678.0,669.0 1678.9,669.0 1679.3,464.0 1678.5,462.4 1679.0,474.6 1679.5,469.8 1680.0,480.9 1680.5,474.2 1681.0,483.0 1681.5,467.3 1682.0,474.9 1682.5,458.4 1683.0,481.1 1683.5,465.1 1684.0,486.1 1684.5,473.3 1685.0,487.5 1685.5,473.1 1686.0,488.1 1686.5,475.0 1687.0,488.9 1687.5,472.2 1688.0,487.4 1688.5,469.5 1689.0,494.1 1689.5,476.6 1690.0,496.8 1690.5,477.9 1691.0,504.2 1691.5,483.1 1692.0,492.7 1692.5,481.7 1693.0,492.9 1693.5,483.5 1694.0,492.7 1694.5,482.2 1695.0,491.3 1695.5,478.4 1696.0,495.8 1696.5,478.3 1697.0,497.3 1697.5,477.2 1698.0,488.6 1698.5,481.2 1699.0,488.0 1699.5,480.0 1700.0,491.3 1700.5,480.8 1701.0,491.5 1701.5,483.9 1702.0,491.7 1702.5,484.5 1703.0,490.4 1703.5,481.6 1704.0,493.4 1704.5,482.7 1705.0,493.6 1705.5,480.0 1706.0,488.1 1706.5,477.3 1707.0,496.2 1707.5,475.2 1708.0,493.7 1708.5,476.1 1709.0,483.8 1709.5,471.2 1710.0,483.2 1710.5,474.5 1711.0,481.8"/>
</g>
<g stroke="#000" stroke-width="1.1111" fill="none" stroke-linecap="square">
<path d="M238.5 120.5V890.5M1710.5 120.5V890.5M238.5 890.5H1710.5M238.5 120.5H1710.5"/>
</g>
<g stroke="#000" stroke-width="1.1111" fill="none">
<path d="M238.5 890.5v4.86M299.5 890.5v4.86M360.5 890.5v4.86M422.5 890.5v4.86M483.5 890.5v4.86M544.5 890.5v4.86M606.5 890.5v4.86M667.5 890.5v4.86M728.5 890.5v4.86M790.5 890.5v4.86M851.5 890.5v4.86M912.5 890.5v4.86M974.5 890.5v4.86M1035.5 890.5v4.86M1096.5 890.5v4.86M1158.5 890.5v4.86M1219.5 890.5v4.86M1281.5 890.5v4.86M1342.5 890.5v4.86M1403.5 890.5v4.86M1465.5 890.5v4.86M1526.5 890.5v4.86M1587.5 890.5v4.86M1649.5 890.5v4.86M1710.5 890.5v4.86"/>
<path d="M238.5 873.5h-4.86M238.5 766.5h-4.86M238.5 659.5h-4.86M238.5 553.5h-4.86M238.5 446.5h-4.86M238.5 339.5h-4.86M238.5 232.5h-4.86M238.5 125.5h-4.86"/>
</g>
<g class="t" text-anchor="middle">
<text x="237.60" y="914.44">0</text><text x="298.82" y="914.44">1</text><text x="360.78" y="914.44">2</text><text x="421.71" y="914.44">3</text><text x="483.69" y="914.44">4</text><text x="544.78" y="914.44">5</text><text x="605.58" y="914.44">6</text><text x="667.81" y="914.44">7</text><text x="728.85" y="914.44">8</text><text x="789.75" y="914.44">9</text><text x="851.42" y="914.44">10</text><text x="912.27" y="914.44">11</text><text x="973.35" y="914.44">12</text><text x="1035.44" y="914.44">13</text><text x="1096.35" y="914.44">14</text><text x="1157.37" y="914.44">15</text><text x="1219.41" y="914.44">16</text><text x="1280.47" y="914.44">17</text><text x="1341.51" y="914.44">18</text><text x="1403.49" y="914.44">19</text><text x="1465.14" y="914.44">20</text><text x="1526.12" y="914.44">21</text><text x="1587.11" y="914.44">22</text><text x="1648.97" y="914.44">23</text><text x="1710.09" y="914.44">24</text>
<text x="973.45" y="937.17">UTC Hour</text>
</g>
<g class="t" text-anchor="end">
<text x="228.18" y="880.03">−80</text><text x="228.11" y="773.16">−60</text><text x="228.28" y="666.29">−40</text><text x="228.33" y="560.41">−20</text><text x="228.38" y="452.55">0</text><text x="227.61" y="345.68">20</text><text x="228.49" y="238.81">40</text><text x="227.32" y="131.94">60</text>
</g>
<text class="t" text-anchor="middle" transform="translate(179.36 505.18) rotate(-90)">Δ<tspan dx="-1.35">B(nT)</tspan></text>
<g class="h" text-anchor="middle">
<text x="973.74" y="41.54" style="white-space:pre;letter-spacing:0.0px">Magnetometer Plot (Component)</text>
<text x="973.69" y="64.81" style="white-space:pre;letter-spacing:-0.026px">Node:  N0001002     Gridsquare:  FN42el</text>
<text x="973.30" y="88.14" style="white-space:pre;letter-spacing:-0.04px">Lat= 42.498338    Long= -71.590748    Elev= 148.3 m</text>
<text x="973.66" y="111.72" style="white-space:pre;letter-spacing:0.0px">2025-04-10  UTC</text>
</g>
<rect x="247.5" y="129.5" width="248.0" height="87.0" rx="3.61" ry="3.61" fill="#fff" fill-opacity="0.8" stroke="#ccc" stroke-opacity="0.8" stroke-width="1.3889"/>
<path d="M253 144H292" stroke="#000" stroke-width="2.0833" fill="none"/><text class="t" x="303.66" y="149.97">Bx (Mean: 50649nT)</text>
<path d="M253 171H292" stroke="#f00" stroke-width="2.0833" fill="none"/><text class="t" x="303.66" y="177.47">By (Mean: 930nT)</text>
<path d="M253 198H292" stroke="#00f" stroke-width="2.0833" fill="none"/><text class="t" x="303.61" y="203.67">Bz (Mean: 23027nT)</text>
</svg>
</body></html>
